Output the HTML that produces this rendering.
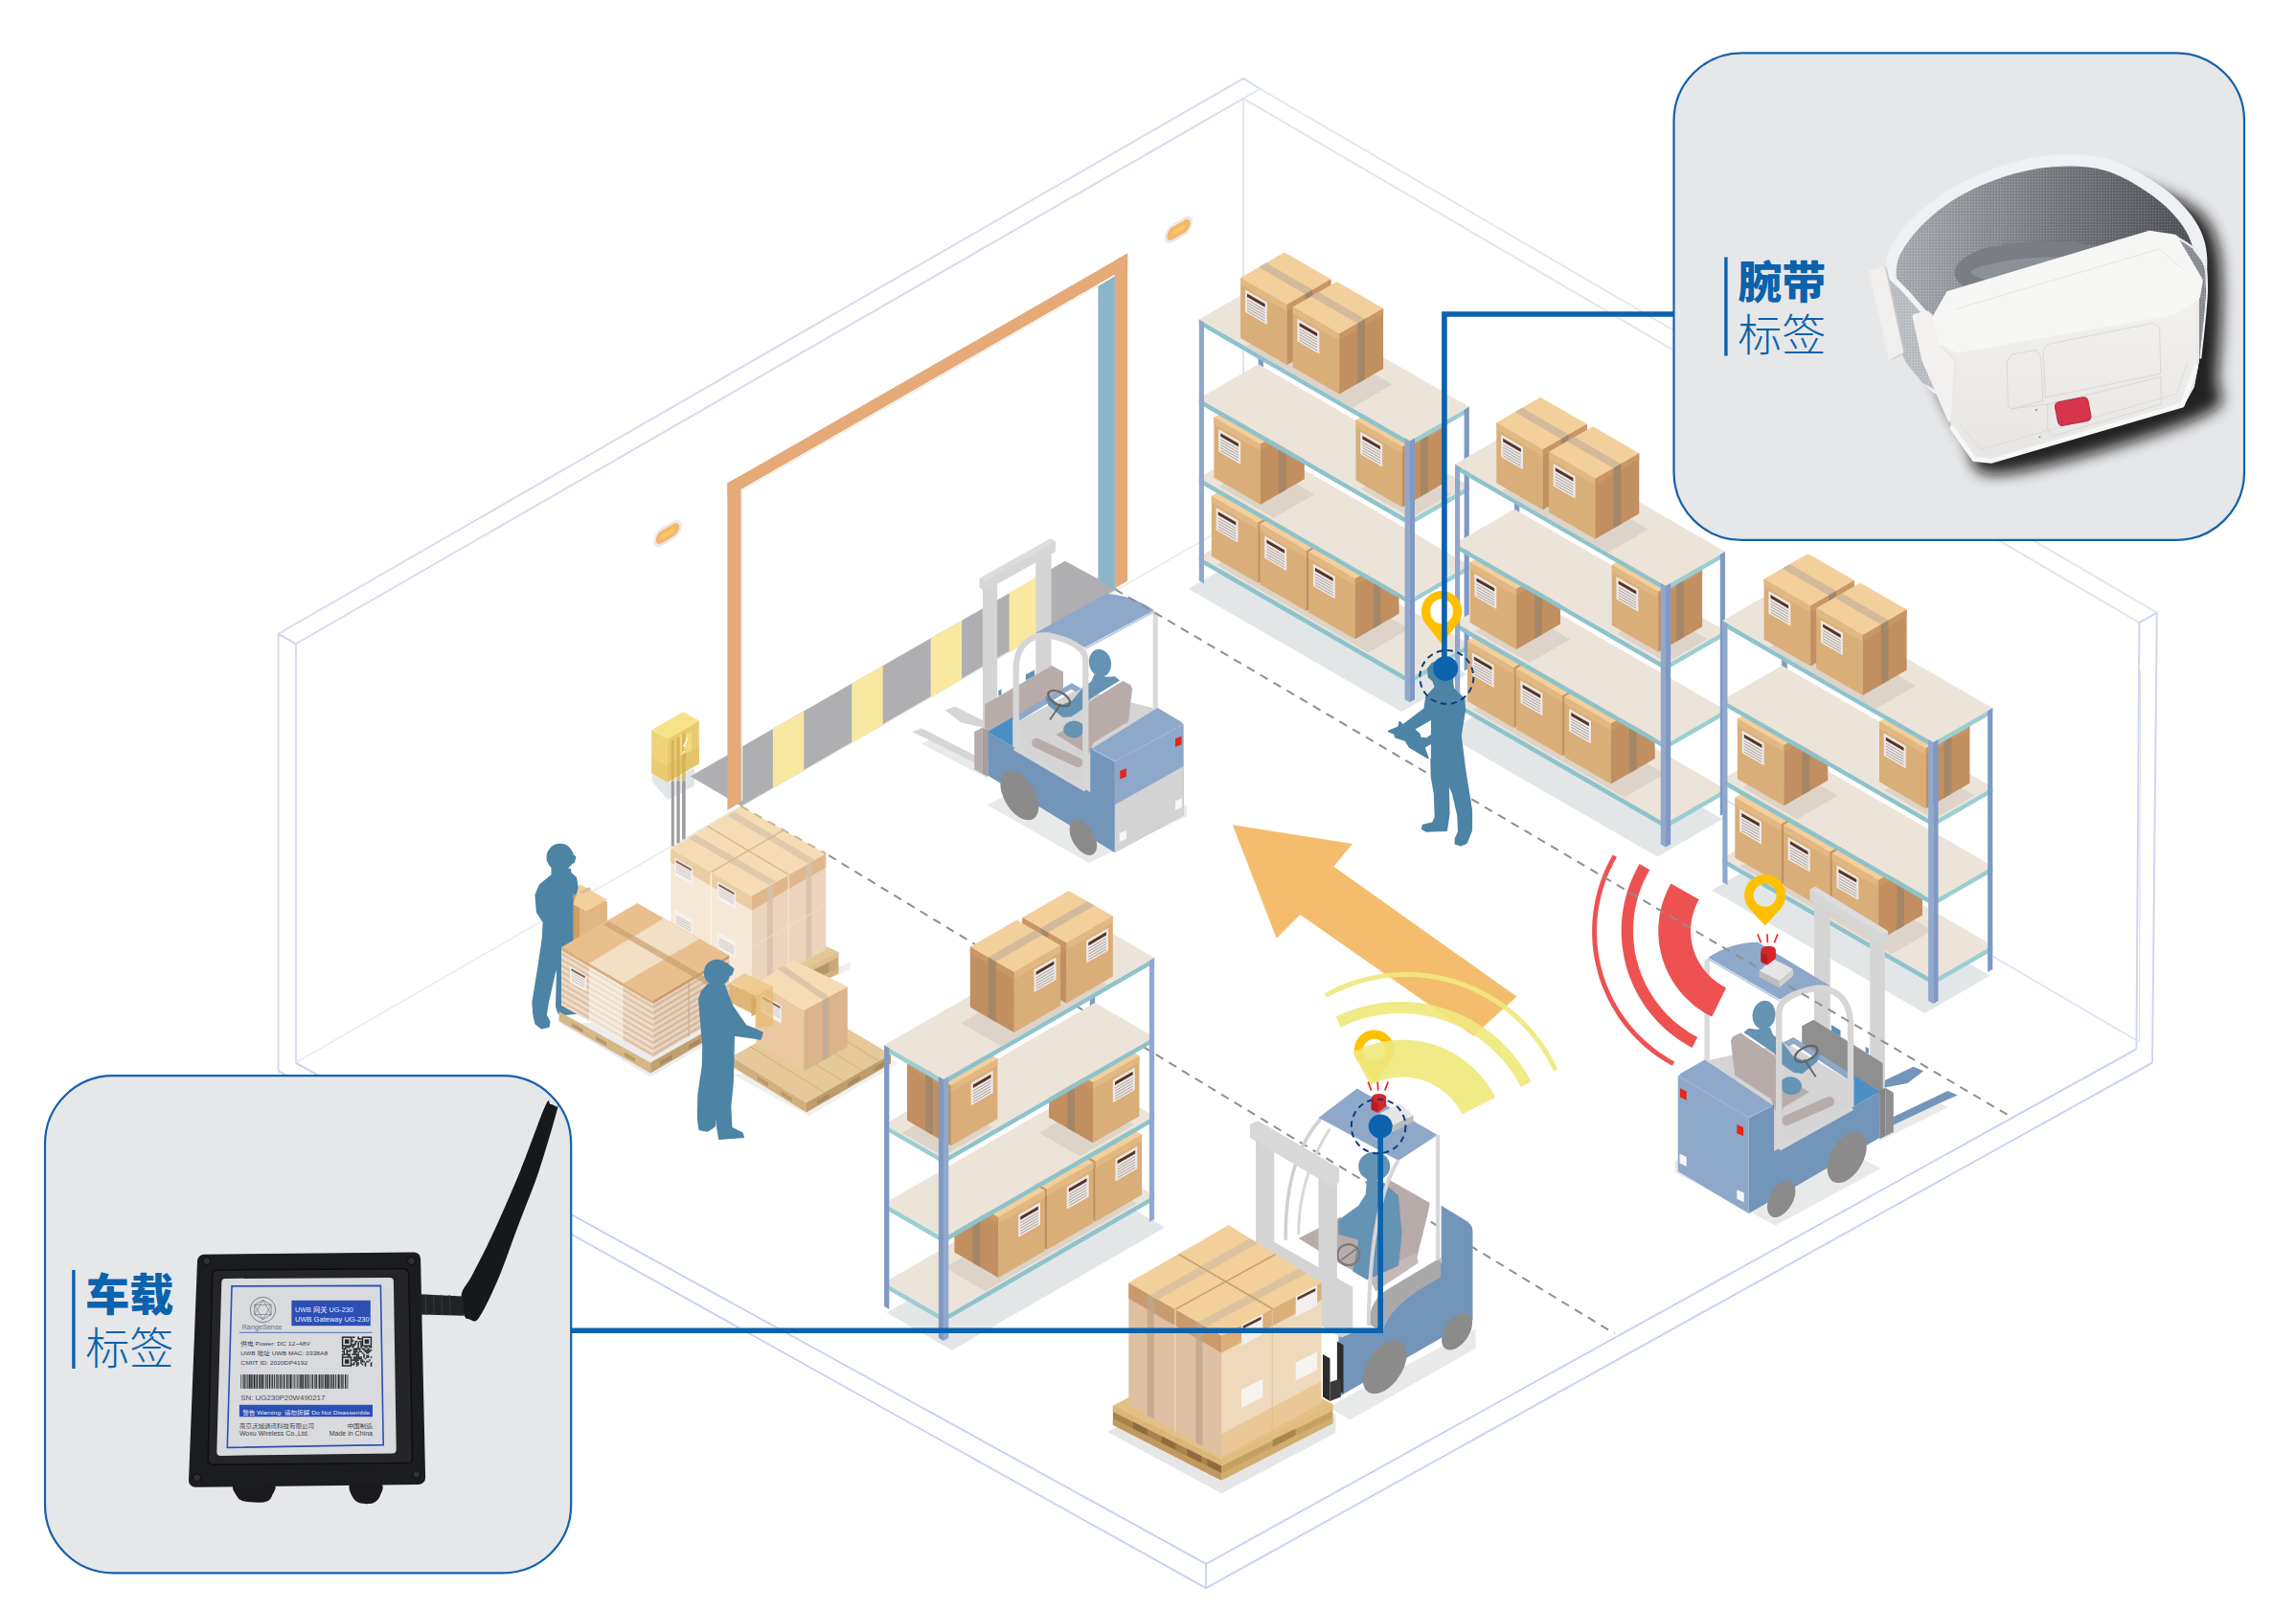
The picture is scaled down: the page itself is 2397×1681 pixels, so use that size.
<!DOCTYPE html>
<html lang="zh"><head><meta charset="utf-8"><title>UWB 仓库定位</title>
<style>html,body{margin:0;padding:0;background:#fff}svg{display:block}text{font-family:"Liberation Sans","Noto Sans CJK SC",sans-serif}</style></head>
<body><svg width="2397" height="1681" viewBox="0 0 2397 1681">
<rect width="2397" height="1681" fill="#fff"/>
<polyline points="290.6,661.8 1298.1,81.9 1315.5,92.7" fill="none" stroke="#d5d9ec" stroke-width="1.9"/>
<polyline points="308.9,672.3 1298.1,102.8" fill="none" stroke="#d5d9ec" stroke-width="1.9"/>
<polyline points="290.6,661.8 308.9,672.3" fill="none" stroke="#cdd2e8" stroke-width="2"/>
<polyline points="290.6,661.8 290.6,1118.1" fill="none" stroke="#d5d9ec" stroke-width="1.9"/>
<polyline points="308.9,672.3 308.9,1109.8" fill="none" stroke="#d5d9ec" stroke-width="1.9"/>
<polyline points="1298.1,102.8 1298.1,540" fill="none" stroke="#d5d9ec" stroke-width="1.4"/>
<polyline points="310,1108.9 1298,540" fill="none" stroke="#e6ece4" stroke-width="1.5"/>
<polyline points="1315.5,92.7 2251.8,639.6" fill="none" stroke="#dde8e8" stroke-width="1.9"/>
<polyline points="1298.1,102.8 2233.4,650.1" fill="none" stroke="#dde8e8" stroke-width="2"/>
<polyline points="1298.1,102.8 1315.5,92.7" fill="none" stroke="#dde8e8" stroke-width="1.9"/>
<polyline points="2233.4,650.1 2251.8,639.6" fill="none" stroke="#cfd4f0" stroke-width="1.8"/>
<polyline points="2251.8,639.6 2247,1109.6" fill="none" stroke="#cfd4f0" stroke-width="1.9"/>
<polyline points="2233.4,650.1 2230.4,1095.3" fill="none" stroke="#cfd4f0" stroke-width="1.9"/>
<polyline points="2234.5,700 2233.5,1087.8" fill="none" stroke="#dfe2f2" stroke-width="1.2"/>
<polyline points="1298,540 2233,1087.8" fill="none" stroke="#dcdff0" stroke-width="1.6"/>
<polyline points="2230.4,1095.3 1259.1,1632.9 308.9,1109.8" fill="none" stroke="#c7d1ef" stroke-width="1.9"/>
<polyline points="2247,1109.6 1259.1,1658.2 290.6,1118.1" fill="none" stroke="#c7d1ef" stroke-width="1.9"/>
<polyline points="1259.1,1632.9 1259.1,1658.2" fill="none" stroke="#c7d1ef" stroke-width="1.9"/>
<polygon points="680.7,808.3 697.5,817.3 724.9,801.6 724.9,820.6 697.5,835.2 680.7,816.2" fill="#e3e6e8"/>
<polygon points="720.7,810.5 1111.9,585.8 1166,614.9 773.6,841.7" fill="#afafb1"/>
<polygon points="806.9,761 839.3,742.4 839.3,804 806.9,822.6" fill="#f9e9a0"/>
<polygon points="889.3,713.6 921.7,695 921.7,756.6 889.3,775.2" fill="#f9e9a0"/>
<polygon points="971.6,666.4 1004.1,647.7 1004.1,709.3 971.6,728" fill="#f9e9a0"/>
<polygon points="1053.6,619.2 1086,600.6 1086,662.2 1053.6,680.8" fill="#f9e9a0"/>
<polygon points="759.4,504.6 773.6,496.4 773.6,837.6 759.4,845.8" fill="#e5aa77"/>
<polygon points="759.4,504.6 1177.2,264.5 1177.2,279 759.4,519.1" fill="#e5aa77"/>
<polygon points="1163.9,272.1 1177.2,264.5 1177.2,606.6 1163.9,614.2" fill="#e5aa77"/>
<polygon points="1146.4,298.7 1163.9,288.3 1163.9,615.2 1146.4,605.4" fill="#8cb5c8"/>
<polyline points="774.6,836 774.6,512 1146,298.5" fill="none" stroke="#e6efe9" stroke-width="1.4"/>
<g transform="translate(697,557) matrix(0.866,-0.5,0,1,0,0)">
<rect x="-17" y="-9.5" width="34" height="19" rx="9.5" fill="#e9eaee"/>
<rect x="-14" y="-6.5" width="28" height="13" rx="6.5" fill="#f7b668"/>
<rect x="-8" y="-2.5" width="16" height="5" rx="2.5" fill="#f9c66e"/>
</g>
<g transform="translate(1230.4,240) matrix(0.866,-0.5,0,1,0,0)">
<rect x="-17" y="-9.5" width="34" height="19" rx="9.5" fill="#e9eaee"/>
<rect x="-14" y="-6.5" width="28" height="13" rx="6.5" fill="#f7b668"/>
<rect x="-8" y="-2.5" width="16" height="5" rx="2.5" fill="#f9c66e"/>
</g>
<rect x="700.8" y="815" width="3" height="68.8" rx="1.5" fill="#9d9d9f"/>
<rect x="706.4" y="815" width="3.4" height="65.4" rx="1.5" fill="#9d9d9f"/>
<rect x="712" y="815" width="3.7" height="61.5" rx="1.5" fill="#9d9d9f"/>
<polygon points="680.1,762.3 696.9,771.4 696.9,816.7 680.1,807.2" fill="#f0d27c"/>
<polygon points="696.9,771.4 729.9,752.4 729.9,797.2 696.9,816.7" fill="#e9ca70"/>
<polygon points="696.9,798.3 729.9,779.3 729.9,797.2 696.9,816.7" fill="#e2c068" opacity="0.8"/>
<polygon points="680.1,791.6 696.9,800.5 696.9,816.7 680.1,807.2" fill="#e8c871" opacity="0.8"/>
<polygon points="680.1,762.3 713.1,743.3 729.9,752.4 696.9,771.4" fill="#f6e389"/>
<polygon points="709.2,768.3 722.1,764.2 722.1,784 709.2,788.4" fill="#f6d979"/>
<rect x="700.8" y="772.6" width="3" height="42.5" rx="1.5" fill="#d3ab50" opacity="0.75"/>
<rect x="706.4" y="769.2" width="3.4" height="45.8" rx="1.5" fill="#d3ab50" opacity="0.75"/>
<rect x="712" y="765.3" width="3.7" height="49.8" rx="1.5" fill="#d3ab50" opacity="0.75"/>
<polygon points="717.6,770.3 712.6,779.8 716.5,779.3 710.9,789.3 715.9,784.3 713.7,783.7 718.1,770.9" fill="#ffffff"/>
<polygon points="1240.5,614.8 1463.1,743.3 1531.2,704 1308.6,575.5" fill="#e3e6e7"/>
<polygon points="1313.8,570.5 1319,573.5 1319,300.7 1313.8,297.7" fill="#90a8cc"/>
<polygon points="1313.8,576.5 1319,573.5 1319,300.7 1313.8,303.7" fill="#7f99c3"/>
<polygon points="1251.8,586.7 1471.8,713.7 1471.8,708.3 1251.8,581.3" fill="#8dc3cc"/>
<polygon points="1471.8,713.7 1533.8,677.9 1533.8,672.5 1471.8,708.3" fill="#9bcdd3"/>
<polygon points="1251.8,581.3 1471.8,708.3 1533.8,672.5 1313.8,545.5" fill="#ece3d9"/>
<polygon points="1270,589.8 1327.1,622.8 1369.6,598.3 1312.4,565.3" fill="#ddd3c9"/>
<polygon points="1320.6,619 1377.8,652 1420.2,627.5 1363.1,594.5" fill="#ddd3c9"/>
<polygon points="1371.3,648.3 1428.5,681.3 1470.9,656.8 1413.7,623.8" fill="#ddd3c9"/>
<polygon points="1264.8,580.8 1313.3,608.8 1313.3,545.8 1264.8,517.8" fill="#d9ae78"/>
<polygon points="1313.3,608.8 1359.2,582.3 1359.2,519.3 1313.3,545.8" fill="#c18f60"/>
<polygon points="1264.8,517.8 1313.3,545.8 1359.2,519.3 1310.7,491.3" fill="#f3cf9b"/>
<polygon points="1264.8,524.8 1313.3,552.8 1313.3,545.8 1264.8,517.8" fill="#e2b882"/>
<polygon points="1313.3,552.8 1359.2,526.3 1359.2,519.3 1313.3,545.8" fill="#c99666"/>
<polygon points="1283.8,506.8 1332.3,534.8 1340.1,530.3 1291.6,502.3" fill="#d3ba9b"/>
<polygon points="1332.3,597.8 1340.1,593.3 1340.1,530.3 1332.3,534.8" fill="#a58767"/>
<polygon points="1269.6,553.5 1292.5,566.8 1292.5,543.3 1269.6,530" fill="#ede7e4"/>
<polygon points="1271.7,537.8 1290.3,548.5 1290.3,545 1271.7,534.3" fill="#553426"/>
<polyline points="1271.7,540.8 1290.3,551.5" fill="none" stroke="#8d817c" stroke-width="0.7"/>
<polyline points="1271.7,543.7 1290.3,554.4" fill="none" stroke="#8d817c" stroke-width="0.7"/>
<polyline points="1271.7,546.6 1290.3,557.3" fill="none" stroke="#8d817c" stroke-width="0.7"/>
<polyline points="1271.7,549.5 1290.3,560.2" fill="none" stroke="#8d817c" stroke-width="0.7"/>
<polyline points="1271.7,552.4 1290.3,563.1" fill="none" stroke="#8d817c" stroke-width="0.7"/>
<polygon points="1315.5,610 1363.9,638 1363.9,575 1315.5,547" fill="#d9ae78"/>
<polygon points="1363.9,638 1409.8,611.5 1409.8,548.5 1363.9,575" fill="#c18f60"/>
<polygon points="1315.5,547 1363.9,575 1409.8,548.5 1361.3,520.5" fill="#f3cf9b"/>
<polygon points="1315.5,554 1363.9,582 1363.9,575 1315.5,547" fill="#e2b882"/>
<polygon points="1363.9,582 1409.8,555.5 1409.8,548.5 1363.9,575" fill="#c99666"/>
<polygon points="1334.5,536 1383,564 1390.8,559.5 1342.3,531.5" fill="#d3ba9b"/>
<polygon points="1383,627 1390.8,622.5 1390.8,559.5 1383,564" fill="#a58767"/>
<polygon points="1320.2,582.8 1343.2,596 1343.2,572.5 1320.2,559.3" fill="#ede7e4"/>
<polygon points="1322.4,567 1341,577.8 1341,574.3 1322.4,563.5" fill="#553426"/>
<polyline points="1322.4,570 1341,580.8" fill="none" stroke="#8d817c" stroke-width="0.7"/>
<polyline points="1322.4,572.9 1341,583.7" fill="none" stroke="#8d817c" stroke-width="0.7"/>
<polyline points="1322.4,575.8 1341,586.6" fill="none" stroke="#8d817c" stroke-width="0.7"/>
<polyline points="1322.4,578.8 1341,589.5" fill="none" stroke="#8d817c" stroke-width="0.7"/>
<polyline points="1322.4,581.6 1341,592.4" fill="none" stroke="#8d817c" stroke-width="0.7"/>
<polygon points="1366.1,639.3 1414.6,667.3 1414.6,604.3 1366.1,576.3" fill="#d9ae78"/>
<polygon points="1414.6,667.3 1460.5,640.8 1460.5,577.8 1414.6,604.3" fill="#c18f60"/>
<polygon points="1366.1,576.3 1414.6,604.3 1460.5,577.8 1412,549.8" fill="#f3cf9b"/>
<polygon points="1366.1,583.3 1414.6,611.3 1414.6,604.3 1366.1,576.3" fill="#e2b882"/>
<polygon points="1414.6,611.3 1460.5,584.8 1460.5,577.8 1414.6,604.3" fill="#c99666"/>
<polygon points="1385.2,565.3 1433.7,593.3 1441.5,588.8 1393,560.8" fill="#d3ba9b"/>
<polygon points="1433.7,656.3 1441.5,651.8 1441.5,588.8 1433.7,593.3" fill="#a58767"/>
<polygon points="1370.9,612 1393.8,625.3 1393.8,601.8 1370.9,588.5" fill="#ede7e4"/>
<polygon points="1373,596.3 1391.7,607 1391.7,603.5 1373,592.8" fill="#553426"/>
<polyline points="1373,599.3 1391.7,610" fill="none" stroke="#8d817c" stroke-width="0.7"/>
<polyline points="1373,602.2 1391.7,612.9" fill="none" stroke="#8d817c" stroke-width="0.7"/>
<polyline points="1373,605.1 1391.7,615.8" fill="none" stroke="#8d817c" stroke-width="0.7"/>
<polyline points="1373,608 1391.7,618.8" fill="none" stroke="#8d817c" stroke-width="0.7"/>
<polyline points="1373,610.9 1391.7,621.6" fill="none" stroke="#8d817c" stroke-width="0.7"/>
<polygon points="1251.8,504.1 1471.8,631.1 1471.8,625.7 1251.8,498.7" fill="#8dc3cc"/>
<polygon points="1471.8,631.1 1533.8,595.3 1533.8,589.9 1471.8,625.7" fill="#9bcdd3"/>
<polygon points="1251.8,498.7 1471.8,625.7 1533.8,589.9 1313.8,462.9" fill="#ece3d9"/>
<polygon points="1272.6,507.7 1329.7,540.7 1372.2,516.2 1315,483.2" fill="#ddd3c9"/>
<polygon points="1267.4,498.7 1315.9,526.7 1315.9,463.7 1267.4,435.7" fill="#d9ae78"/>
<polygon points="1315.9,526.7 1361.8,500.2 1361.8,437.2 1315.9,463.7" fill="#c18f60"/>
<polygon points="1267.4,435.7 1315.9,463.7 1361.8,437.2 1313.3,409.2" fill="#f3cf9b"/>
<polygon points="1267.4,442.7 1315.9,470.7 1315.9,463.7 1267.4,435.7" fill="#e2b882"/>
<polygon points="1315.9,470.7 1361.8,444.2 1361.8,437.2 1315.9,463.7" fill="#c99666"/>
<polygon points="1286.4,424.7 1334.9,452.7 1342.7,448.2 1294.2,420.2" fill="#d3ba9b"/>
<polygon points="1334.9,515.7 1342.7,511.2 1342.7,448.2 1334.9,452.7" fill="#a58767"/>
<polygon points="1272.2,471.4 1295.1,484.7 1295.1,461.2 1272.2,447.9" fill="#ede7e4"/>
<polygon points="1274.3,455.7 1292.9,466.4 1292.9,462.9 1274.3,452.2" fill="#553426"/>
<polyline points="1274.3,458.7 1292.9,469.4" fill="none" stroke="#8d817c" stroke-width="0.7"/>
<polyline points="1274.3,461.6 1292.9,472.3" fill="none" stroke="#8d817c" stroke-width="0.7"/>
<polyline points="1274.3,464.5 1292.9,475.2" fill="none" stroke="#8d817c" stroke-width="0.7"/>
<polyline points="1274.3,467.4 1292.9,478.1" fill="none" stroke="#8d817c" stroke-width="0.7"/>
<polyline points="1274.3,470.3 1292.9,481" fill="none" stroke="#8d817c" stroke-width="0.7"/>
<polygon points="1251.8,421.5 1471.8,548.5 1471.8,543.1 1251.8,416.1" fill="#8dc3cc"/>
<polygon points="1471.8,548.5 1533.8,512.7 1533.8,507.3 1471.8,543.1" fill="#9bcdd3"/>
<polygon points="1251.8,416.1 1471.8,543.1 1533.8,507.3 1313.8,380.3" fill="#ece3d9"/>
<polygon points="1420.7,510.6 1472.6,540.6 1515.1,516.1 1463.1,486.1" fill="#ddd3c9"/>
<polygon points="1415.5,501.6 1464,529.6 1464,466.6 1415.5,438.6" fill="#d9ae78"/>
<polygon points="1464,529.6 1509.9,503.1 1509.9,440.1 1464,466.6" fill="#c18f60"/>
<polygon points="1415.5,438.6 1464,466.6 1509.9,440.1 1461.4,412.1" fill="#f3cf9b"/>
<polygon points="1415.5,445.6 1464,473.6 1464,466.6 1415.5,438.6" fill="#e2b882"/>
<polygon points="1464,473.6 1509.9,447.1 1509.9,440.1 1464,466.6" fill="#c99666"/>
<polygon points="1434.5,427.6 1483,455.6 1490.8,451.1 1442.3,423.1" fill="#d3ba9b"/>
<polygon points="1483,518.6 1490.8,514.1 1490.8,451.1 1483,455.6" fill="#a58767"/>
<polygon points="1420.2,474.3 1443.2,487.6 1443.2,464.1 1420.2,450.8" fill="#ede7e4"/>
<polygon points="1422.4,458.6 1441,469.3 1441,465.8 1422.4,455.1" fill="#553426"/>
<polyline points="1422.4,461.6 1441,472.3" fill="none" stroke="#8d817c" stroke-width="0.7"/>
<polyline points="1422.4,464.5 1441,475.2" fill="none" stroke="#8d817c" stroke-width="0.7"/>
<polyline points="1422.4,467.4 1441,478.1" fill="none" stroke="#8d817c" stroke-width="0.7"/>
<polyline points="1422.4,470.3 1441,481" fill="none" stroke="#8d817c" stroke-width="0.7"/>
<polyline points="1422.4,473.2 1441,483.9" fill="none" stroke="#8d817c" stroke-width="0.7"/>
<polygon points="1251.8,338.9 1471.8,465.9 1471.8,460.5 1251.8,333.5" fill="#8dc3cc"/>
<polygon points="1471.8,465.9 1533.8,430.1 1533.8,424.7 1471.8,460.5" fill="#9bcdd3"/>
<polygon points="1251.8,333.5 1471.8,460.5 1533.8,424.7 1313.8,297.7" fill="#ece3d9"/>
<polygon points="1300.3,362 1411.1,426 1453.6,401.5 1342.7,337.5" fill="#ddd3c9"/>
<polygon points="1295.1,353 1343.6,381 1343.6,318 1295.1,290" fill="#d9ae78"/>
<polygon points="1343.6,381 1389.5,354.5 1389.5,291.5 1343.6,318" fill="#c18f60"/>
<polygon points="1295.1,290 1343.6,318 1389.5,291.5 1341,263.5" fill="#f3cf9b"/>
<polygon points="1295.1,297 1343.6,325 1343.6,318 1295.1,290" fill="#e2b882"/>
<polygon points="1343.6,325 1389.5,298.5 1389.5,291.5 1343.6,318" fill="#c99666"/>
<polygon points="1314.2,279 1362.6,307 1370.4,302.5 1321.9,274.5" fill="#d3ba9b"/>
<polygon points="1362.6,370 1370.4,365.5 1370.4,302.5 1362.6,307" fill="#a58767"/>
<polygon points="1299.9,325.8 1322.8,339 1322.8,315.5 1299.9,302.2" fill="#ede7e4"/>
<polygon points="1302,310 1320.6,320.8 1320.6,317.2 1302,306.5" fill="#553426"/>
<polyline points="1302,313 1320.6,323.8" fill="none" stroke="#8d817c" stroke-width="0.7"/>
<polyline points="1302,315.9 1320.6,326.6" fill="none" stroke="#8d817c" stroke-width="0.7"/>
<polyline points="1302,318.8 1320.6,329.6" fill="none" stroke="#8d817c" stroke-width="0.7"/>
<polyline points="1302,321.7 1320.6,332.4" fill="none" stroke="#8d817c" stroke-width="0.7"/>
<polyline points="1302,324.6 1320.6,335.4" fill="none" stroke="#8d817c" stroke-width="0.7"/>
<polygon points="1349.7,383.5 1398.2,411.5 1398.2,348.5 1349.7,320.5" fill="#d9ae78"/>
<polygon points="1398.2,411.5 1444.1,385 1444.1,322 1398.2,348.5" fill="#c18f60"/>
<polygon points="1349.7,320.5 1398.2,348.5 1444.1,322 1395.6,294" fill="#f3cf9b"/>
<polygon points="1349.7,327.5 1398.2,355.5 1398.2,348.5 1349.7,320.5" fill="#e2b882"/>
<polygon points="1398.2,355.5 1444.1,329 1444.1,322 1398.2,348.5" fill="#c99666"/>
<polygon points="1368.7,309.5 1417.2,337.5 1425,333 1376.5,305" fill="#d3ba9b"/>
<polygon points="1417.2,400.5 1425,396 1425,333 1417.2,337.5" fill="#a58767"/>
<polygon points="1354.4,356.2 1377.4,369.5 1377.4,346 1354.4,332.8" fill="#ede7e4"/>
<polygon points="1356.6,340.5 1375.2,351.2 1375.2,347.8 1356.6,337" fill="#553426"/>
<polyline points="1356.6,343.5 1375.2,354.2" fill="none" stroke="#8d817c" stroke-width="0.7"/>
<polyline points="1356.6,346.4 1375.2,357.1" fill="none" stroke="#8d817c" stroke-width="0.7"/>
<polyline points="1356.6,349.3 1375.2,360.1" fill="none" stroke="#8d817c" stroke-width="0.7"/>
<polyline points="1356.6,352.2 1375.2,362.9" fill="none" stroke="#8d817c" stroke-width="0.7"/>
<polyline points="1356.6,355.1 1375.2,365.9" fill="none" stroke="#8d817c" stroke-width="0.7"/>
<polygon points="1528.6,700.5 1533.8,697.5 1533.8,424.7 1528.6,427.7" fill="#7f99c3"/>
<polygon points="1251.8,606.3 1257,609.3 1257,336.5 1251.8,333.5" fill="#90a8cc"/>
<polygon points="1466.6,730.3 1471.8,733.3 1471.8,460.5 1466.6,457.5" fill="#90a8cc"/>
<polygon points="1471.8,733.3 1477,730.3 1477,457.5 1471.8,460.5" fill="#7f99c3"/>
<polygon points="1507.7,766 1730.3,894.5 1798.4,855.2 1575.8,726.7" fill="#e3e6e7"/>
<polygon points="1581,721.7 1586.2,724.7 1586.2,451.9 1581,448.9" fill="#90a8cc"/>
<polygon points="1581,727.7 1586.2,724.7 1586.2,451.9 1581,454.9" fill="#7f99c3"/>
<polygon points="1519,737.9 1739,864.9 1739,859.5 1519,732.5" fill="#8dc3cc"/>
<polygon points="1739,864.9 1801,829.1 1801,823.7 1739,859.5" fill="#9bcdd3"/>
<polygon points="1519,732.5 1739,859.5 1801,823.7 1581,696.7" fill="#ece3d9"/>
<polygon points="1537.2,741 1594.3,774 1636.8,749.5 1579.6,716.5" fill="#ddd3c9"/>
<polygon points="1587.8,770.2 1645,803.2 1687.4,778.8 1630.3,745.8" fill="#ddd3c9"/>
<polygon points="1638.5,799.5 1695.7,832.5 1738.1,808 1680.9,775" fill="#ddd3c9"/>
<polygon points="1532,732 1580.5,760 1580.5,697 1532,669" fill="#d9ae78"/>
<polygon points="1580.5,760 1626.4,733.5 1626.4,670.5 1580.5,697" fill="#c18f60"/>
<polygon points="1532,669 1580.5,697 1626.4,670.5 1577.9,642.5" fill="#f3cf9b"/>
<polygon points="1532,676 1580.5,704 1580.5,697 1532,669" fill="#e2b882"/>
<polygon points="1580.5,704 1626.4,677.5 1626.4,670.5 1580.5,697" fill="#c99666"/>
<polygon points="1551,658 1599.5,686 1607.3,681.5 1558.8,653.5" fill="#d3ba9b"/>
<polygon points="1599.5,749 1607.3,744.5 1607.3,681.5 1599.5,686" fill="#a58767"/>
<polygon points="1536.8,704.8 1559.7,718 1559.7,694.5 1536.8,681.2" fill="#ede7e4"/>
<polygon points="1538.9,689 1557.5,699.8 1557.5,696.2 1538.9,685.5" fill="#553426"/>
<polyline points="1538.9,692 1557.5,702.8" fill="none" stroke="#8d817c" stroke-width="0.7"/>
<polyline points="1538.9,694.9 1557.5,705.6" fill="none" stroke="#8d817c" stroke-width="0.7"/>
<polyline points="1538.9,697.8 1557.5,708.5" fill="none" stroke="#8d817c" stroke-width="0.7"/>
<polyline points="1538.9,700.7 1557.5,711.5" fill="none" stroke="#8d817c" stroke-width="0.7"/>
<polyline points="1538.9,703.6 1557.5,714.4" fill="none" stroke="#8d817c" stroke-width="0.7"/>
<polygon points="1582.7,761.2 1631.1,789.2 1631.1,726.2 1582.7,698.2" fill="#d9ae78"/>
<polygon points="1631.1,789.2 1677,762.8 1677,699.8 1631.1,726.2" fill="#c18f60"/>
<polygon points="1582.7,698.2 1631.1,726.2 1677,699.8 1628.5,671.8" fill="#f3cf9b"/>
<polygon points="1582.7,705.2 1631.1,733.2 1631.1,726.2 1582.7,698.2" fill="#e2b882"/>
<polygon points="1631.1,733.2 1677,706.8 1677,699.8 1631.1,726.2" fill="#c99666"/>
<polygon points="1601.7,687.2 1650.2,715.2 1658,710.8 1609.5,682.8" fill="#d3ba9b"/>
<polygon points="1650.2,778.2 1658,773.8 1658,710.8 1650.2,715.2" fill="#a58767"/>
<polygon points="1587.4,734 1610.4,747.2 1610.4,723.8 1587.4,710.5" fill="#ede7e4"/>
<polygon points="1589.6,718.2 1608.2,729 1608.2,725.5 1589.6,714.8" fill="#553426"/>
<polyline points="1589.6,721.2 1608.2,732" fill="none" stroke="#8d817c" stroke-width="0.7"/>
<polyline points="1589.6,724.1 1608.2,734.9" fill="none" stroke="#8d817c" stroke-width="0.7"/>
<polyline points="1589.6,727 1608.2,737.8" fill="none" stroke="#8d817c" stroke-width="0.7"/>
<polyline points="1589.6,730 1608.2,740.7" fill="none" stroke="#8d817c" stroke-width="0.7"/>
<polyline points="1589.6,732.9 1608.2,743.6" fill="none" stroke="#8d817c" stroke-width="0.7"/>
<polygon points="1633.3,790.5 1681.8,818.5 1681.8,755.5 1633.3,727.5" fill="#d9ae78"/>
<polygon points="1681.8,818.5 1727.7,792 1727.7,729 1681.8,755.5" fill="#c18f60"/>
<polygon points="1633.3,727.5 1681.8,755.5 1727.7,729 1679.2,701" fill="#f3cf9b"/>
<polygon points="1633.3,734.5 1681.8,762.5 1681.8,755.5 1633.3,727.5" fill="#e2b882"/>
<polygon points="1681.8,762.5 1727.7,736 1727.7,729 1681.8,755.5" fill="#c99666"/>
<polygon points="1652.4,716.5 1700.9,744.5 1708.7,740 1660.2,712" fill="#d3ba9b"/>
<polygon points="1700.9,807.5 1708.7,803 1708.7,740 1700.9,744.5" fill="#a58767"/>
<polygon points="1638.1,763.2 1661,776.5 1661,753 1638.1,739.8" fill="#ede7e4"/>
<polygon points="1640.2,747.5 1658.9,758.2 1658.9,754.8 1640.2,744" fill="#553426"/>
<polyline points="1640.2,750.5 1658.9,761.2" fill="none" stroke="#8d817c" stroke-width="0.7"/>
<polyline points="1640.2,753.4 1658.9,764.1" fill="none" stroke="#8d817c" stroke-width="0.7"/>
<polyline points="1640.2,756.3 1658.9,767" fill="none" stroke="#8d817c" stroke-width="0.7"/>
<polyline points="1640.2,759.2 1658.9,770" fill="none" stroke="#8d817c" stroke-width="0.7"/>
<polyline points="1640.2,762.1 1658.9,772.9" fill="none" stroke="#8d817c" stroke-width="0.7"/>
<polygon points="1519,655.3 1739,782.3 1739,776.9 1519,649.9" fill="#8dc3cc"/>
<polygon points="1739,782.3 1801,746.5 1801,741.1 1739,776.9" fill="#9bcdd3"/>
<polygon points="1519,649.9 1739,776.9 1801,741.1 1581,614.1" fill="#ece3d9"/>
<polygon points="1539.8,658.9 1596.9,691.9 1639.4,667.4 1582.2,634.4" fill="#ddd3c9"/>
<polygon points="1534.6,649.9 1583.1,677.9 1583.1,614.9 1534.6,586.9" fill="#d9ae78"/>
<polygon points="1583.1,677.9 1629,651.4 1629,588.4 1583.1,614.9" fill="#c18f60"/>
<polygon points="1534.6,586.9 1583.1,614.9 1629,588.4 1580.5,560.4" fill="#f3cf9b"/>
<polygon points="1534.6,593.9 1583.1,621.9 1583.1,614.9 1534.6,586.9" fill="#e2b882"/>
<polygon points="1583.1,621.9 1629,595.4 1629,588.4 1583.1,614.9" fill="#c99666"/>
<polygon points="1553.6,575.9 1602.1,603.9 1609.9,599.4 1561.4,571.4" fill="#d3ba9b"/>
<polygon points="1602.1,666.9 1609.9,662.4 1609.9,599.4 1602.1,603.9" fill="#a58767"/>
<polygon points="1539.4,622.6 1562.3,635.9 1562.3,612.4 1539.4,599.1" fill="#ede7e4"/>
<polygon points="1541.5,606.9 1560.1,617.6 1560.1,614.1 1541.5,603.4" fill="#553426"/>
<polyline points="1541.5,609.9 1560.1,620.6" fill="none" stroke="#8d817c" stroke-width="0.7"/>
<polyline points="1541.5,612.8 1560.1,623.5" fill="none" stroke="#8d817c" stroke-width="0.7"/>
<polyline points="1541.5,615.7 1560.1,626.5" fill="none" stroke="#8d817c" stroke-width="0.7"/>
<polyline points="1541.5,618.6 1560.1,629.4" fill="none" stroke="#8d817c" stroke-width="0.7"/>
<polyline points="1541.5,621.5 1560.1,632.2" fill="none" stroke="#8d817c" stroke-width="0.7"/>
<polygon points="1519,572.7 1739,699.7 1739,694.3 1519,567.3" fill="#8dc3cc"/>
<polygon points="1739,699.7 1801,663.9 1801,658.5 1739,694.3" fill="#9bcdd3"/>
<polygon points="1519,567.3 1739,694.3 1801,658.5 1581,531.5" fill="#ece3d9"/>
<polygon points="1687.9,661.8 1739.8,691.8 1782.3,667.3 1730.3,637.3" fill="#ddd3c9"/>
<polygon points="1682.7,652.8 1731.2,680.8 1731.2,617.8 1682.7,589.8" fill="#d9ae78"/>
<polygon points="1731.2,680.8 1777.1,654.3 1777.1,591.3 1731.2,617.8" fill="#c18f60"/>
<polygon points="1682.7,589.8 1731.2,617.8 1777.1,591.3 1728.6,563.3" fill="#f3cf9b"/>
<polygon points="1682.7,596.8 1731.2,624.8 1731.2,617.8 1682.7,589.8" fill="#e2b882"/>
<polygon points="1731.2,624.8 1777.1,598.3 1777.1,591.3 1731.2,617.8" fill="#c99666"/>
<polygon points="1701.7,578.8 1750.2,606.8 1758,602.3 1709.5,574.3" fill="#d3ba9b"/>
<polygon points="1750.2,669.8 1758,665.3 1758,602.3 1750.2,606.8" fill="#a58767"/>
<polygon points="1687.4,625.5 1710.4,638.8 1710.4,615.3 1687.4,602" fill="#ede7e4"/>
<polygon points="1689.6,609.8 1708.2,620.5 1708.2,617 1689.6,606.3" fill="#553426"/>
<polyline points="1689.6,612.8 1708.2,623.5" fill="none" stroke="#8d817c" stroke-width="0.7"/>
<polyline points="1689.6,615.7 1708.2,626.5" fill="none" stroke="#8d817c" stroke-width="0.7"/>
<polyline points="1689.6,618.6 1708.2,629.4" fill="none" stroke="#8d817c" stroke-width="0.7"/>
<polyline points="1689.6,621.5 1708.2,632.2" fill="none" stroke="#8d817c" stroke-width="0.7"/>
<polyline points="1689.6,624.4 1708.2,635.1" fill="none" stroke="#8d817c" stroke-width="0.7"/>
<polygon points="1519,490.1 1739,617.1 1739,611.7 1519,484.7" fill="#8dc3cc"/>
<polygon points="1739,617.1 1801,581.3 1801,575.9 1739,611.7" fill="#9bcdd3"/>
<polygon points="1519,484.7 1739,611.7 1801,575.9 1581,448.9" fill="#ece3d9"/>
<polygon points="1567.5,513.2 1678.3,577.2 1720.8,552.7 1609.9,488.7" fill="#ddd3c9"/>
<polygon points="1562.3,504.2 1610.8,532.2 1610.8,469.2 1562.3,441.2" fill="#d9ae78"/>
<polygon points="1610.8,532.2 1656.7,505.7 1656.7,442.7 1610.8,469.2" fill="#c18f60"/>
<polygon points="1562.3,441.2 1610.8,469.2 1656.7,442.7 1608.2,414.7" fill="#f3cf9b"/>
<polygon points="1562.3,448.2 1610.8,476.2 1610.8,469.2 1562.3,441.2" fill="#e2b882"/>
<polygon points="1610.8,476.2 1656.7,449.7 1656.7,442.7 1610.8,469.2" fill="#c99666"/>
<polygon points="1581.4,430.2 1629.8,458.2 1637.6,453.7 1589.1,425.7" fill="#d3ba9b"/>
<polygon points="1629.8,521.2 1637.6,516.7 1637.6,453.7 1629.8,458.2" fill="#a58767"/>
<polygon points="1567.1,477 1590,490.2 1590,466.7 1567.1,453.5" fill="#ede7e4"/>
<polygon points="1569.2,461.2 1587.8,472 1587.8,468.5 1569.2,457.7" fill="#553426"/>
<polyline points="1569.2,464.2 1587.8,475" fill="none" stroke="#8d817c" stroke-width="0.7"/>
<polyline points="1569.2,467.1 1587.8,477.9" fill="none" stroke="#8d817c" stroke-width="0.7"/>
<polyline points="1569.2,470 1587.8,480.8" fill="none" stroke="#8d817c" stroke-width="0.7"/>
<polyline points="1569.2,472.9 1587.8,483.7" fill="none" stroke="#8d817c" stroke-width="0.7"/>
<polyline points="1569.2,475.8 1587.8,486.6" fill="none" stroke="#8d817c" stroke-width="0.7"/>
<polygon points="1616.9,534.7 1665.4,562.7 1665.4,499.7 1616.9,471.7" fill="#d9ae78"/>
<polygon points="1665.4,562.7 1711.3,536.2 1711.3,473.2 1665.4,499.7" fill="#c18f60"/>
<polygon points="1616.9,471.7 1665.4,499.7 1711.3,473.2 1662.8,445.2" fill="#f3cf9b"/>
<polygon points="1616.9,478.7 1665.4,506.7 1665.4,499.7 1616.9,471.7" fill="#e2b882"/>
<polygon points="1665.4,506.7 1711.3,480.2 1711.3,473.2 1665.4,499.7" fill="#c99666"/>
<polygon points="1635.9,460.7 1684.4,488.7 1692.2,484.2 1643.7,456.2" fill="#d3ba9b"/>
<polygon points="1684.4,551.7 1692.2,547.2 1692.2,484.2 1684.4,488.7" fill="#a58767"/>
<polygon points="1621.6,507.5 1644.6,520.7 1644.6,497.2 1621.6,484" fill="#ede7e4"/>
<polygon points="1623.8,491.7 1642.4,502.5 1642.4,499 1623.8,488.2" fill="#553426"/>
<polyline points="1623.8,494.7 1642.4,505.5" fill="none" stroke="#8d817c" stroke-width="0.7"/>
<polyline points="1623.8,497.6 1642.4,508.4" fill="none" stroke="#8d817c" stroke-width="0.7"/>
<polyline points="1623.8,500.5 1642.4,511.3" fill="none" stroke="#8d817c" stroke-width="0.7"/>
<polyline points="1623.8,503.4 1642.4,514.2" fill="none" stroke="#8d817c" stroke-width="0.7"/>
<polyline points="1623.8,506.3 1642.4,517.1" fill="none" stroke="#8d817c" stroke-width="0.7"/>
<polygon points="1795.8,851.7 1801,848.7 1801,575.9 1795.8,578.9" fill="#7f99c3"/>
<polygon points="1519,757.5 1524.2,760.5 1524.2,487.7 1519,484.7" fill="#90a8cc"/>
<polygon points="1733.8,881.5 1739,884.5 1739,611.7 1733.8,608.7" fill="#90a8cc"/>
<polygon points="1739,884.5 1744.2,881.5 1744.2,608.7 1739,611.7" fill="#7f99c3"/>
<polygon points="1787,929.4 2009.6,1057.9 2077.7,1018.6 1855.1,890.1" fill="#e3e6e7"/>
<polygon points="1860.3,885.1 1865.5,888.1 1865.5,615.3 1860.3,612.3" fill="#90a8cc"/>
<polygon points="1860.3,891.1 1865.5,888.1 1865.5,615.3 1860.3,618.3" fill="#7f99c3"/>
<polygon points="1798.3,901.3 2018.3,1028.3 2018.3,1022.9 1798.3,895.9" fill="#8dc3cc"/>
<polygon points="2018.3,1028.3 2080.3,992.5 2080.3,987.1 2018.3,1022.9" fill="#9bcdd3"/>
<polygon points="1798.3,895.9 2018.3,1022.9 2080.3,987.1 1860.3,860.1" fill="#ece3d9"/>
<polygon points="1816.5,904.4 1873.6,937.4 1916.1,912.9 1858.9,879.9" fill="#ddd3c9"/>
<polygon points="1867.1,933.6 1924.3,966.6 1966.7,942.1 1909.6,909.1" fill="#ddd3c9"/>
<polygon points="1917.8,962.9 1975,995.9 2017.4,971.4 1960.2,938.4" fill="#ddd3c9"/>
<polygon points="1811.3,895.4 1859.8,923.4 1859.8,860.4 1811.3,832.4" fill="#d9ae78"/>
<polygon points="1859.8,923.4 1905.7,896.9 1905.7,833.9 1859.8,860.4" fill="#c18f60"/>
<polygon points="1811.3,832.4 1859.8,860.4 1905.7,833.9 1857.2,805.9" fill="#f3cf9b"/>
<polygon points="1811.3,839.4 1859.8,867.4 1859.8,860.4 1811.3,832.4" fill="#e2b882"/>
<polygon points="1859.8,867.4 1905.7,840.9 1905.7,833.9 1859.8,860.4" fill="#c99666"/>
<polygon points="1830.3,821.4 1878.8,849.4 1886.6,844.9 1838.1,816.9" fill="#d3ba9b"/>
<polygon points="1878.8,912.4 1886.6,907.9 1886.6,844.9 1878.8,849.4" fill="#a58767"/>
<polygon points="1816.1,868.1 1839,881.4 1839,857.9 1816.1,844.6" fill="#ede7e4"/>
<polygon points="1818.2,852.4 1836.8,863.1 1836.8,859.6 1818.2,848.9" fill="#553426"/>
<polyline points="1818.2,855.4 1836.8,866.1" fill="none" stroke="#8d817c" stroke-width="0.7"/>
<polyline points="1818.2,858.3 1836.8,869" fill="none" stroke="#8d817c" stroke-width="0.7"/>
<polyline points="1818.2,861.2 1836.8,871.9" fill="none" stroke="#8d817c" stroke-width="0.7"/>
<polyline points="1818.2,864.1 1836.8,874.9" fill="none" stroke="#8d817c" stroke-width="0.7"/>
<polyline points="1818.2,867 1836.8,877.8" fill="none" stroke="#8d817c" stroke-width="0.7"/>
<polygon points="1862,924.6 1910.4,952.6 1910.4,889.6 1862,861.6" fill="#d9ae78"/>
<polygon points="1910.4,952.6 1956.3,926.1 1956.3,863.1 1910.4,889.6" fill="#c18f60"/>
<polygon points="1862,861.6 1910.4,889.6 1956.3,863.1 1907.8,835.1" fill="#f3cf9b"/>
<polygon points="1862,868.6 1910.4,896.6 1910.4,889.6 1862,861.6" fill="#e2b882"/>
<polygon points="1910.4,896.6 1956.3,870.1 1956.3,863.1 1910.4,889.6" fill="#c99666"/>
<polygon points="1881,850.6 1929.5,878.6 1937.3,874.1 1888.8,846.1" fill="#d3ba9b"/>
<polygon points="1929.5,941.6 1937.3,937.1 1937.3,874.1 1929.5,878.6" fill="#a58767"/>
<polygon points="1866.7,897.4 1889.7,910.6 1889.7,887.1 1866.7,873.9" fill="#ede7e4"/>
<polygon points="1868.9,881.6 1887.5,892.4 1887.5,888.9 1868.9,878.1" fill="#553426"/>
<polyline points="1868.9,884.6 1887.5,895.4" fill="none" stroke="#8d817c" stroke-width="0.7"/>
<polyline points="1868.9,887.5 1887.5,898.3" fill="none" stroke="#8d817c" stroke-width="0.7"/>
<polyline points="1868.9,890.4 1887.5,901.2" fill="none" stroke="#8d817c" stroke-width="0.7"/>
<polyline points="1868.9,893.4 1887.5,904.1" fill="none" stroke="#8d817c" stroke-width="0.7"/>
<polyline points="1868.9,896.2 1887.5,907" fill="none" stroke="#8d817c" stroke-width="0.7"/>
<polygon points="1912.6,953.9 1961.1,981.9 1961.1,918.9 1912.6,890.9" fill="#d9ae78"/>
<polygon points="1961.1,981.9 2007,955.4 2007,892.4 1961.1,918.9" fill="#c18f60"/>
<polygon points="1912.6,890.9 1961.1,918.9 2007,892.4 1958.5,864.4" fill="#f3cf9b"/>
<polygon points="1912.6,897.9 1961.1,925.9 1961.1,918.9 1912.6,890.9" fill="#e2b882"/>
<polygon points="1961.1,925.9 2007,899.4 2007,892.4 1961.1,918.9" fill="#c99666"/>
<polygon points="1931.7,879.9 1980.2,907.9 1988,903.4 1939.5,875.4" fill="#d3ba9b"/>
<polygon points="1980.2,970.9 1988,966.4 1988,903.4 1980.2,907.9" fill="#a58767"/>
<polygon points="1917.4,926.6 1940.3,939.9 1940.3,916.4 1917.4,903.1" fill="#ede7e4"/>
<polygon points="1919.5,910.9 1938.2,921.6 1938.2,918.1 1919.5,907.4" fill="#553426"/>
<polyline points="1919.5,913.9 1938.2,924.6" fill="none" stroke="#8d817c" stroke-width="0.7"/>
<polyline points="1919.5,916.8 1938.2,927.5" fill="none" stroke="#8d817c" stroke-width="0.7"/>
<polyline points="1919.5,919.7 1938.2,930.4" fill="none" stroke="#8d817c" stroke-width="0.7"/>
<polyline points="1919.5,922.6 1938.2,933.4" fill="none" stroke="#8d817c" stroke-width="0.7"/>
<polyline points="1919.5,925.5 1938.2,936.2" fill="none" stroke="#8d817c" stroke-width="0.7"/>
<polygon points="1798.3,818.7 2018.3,945.7 2018.3,940.3 1798.3,813.3" fill="#8dc3cc"/>
<polygon points="2018.3,945.7 2080.3,909.9 2080.3,904.5 2018.3,940.3" fill="#9bcdd3"/>
<polygon points="1798.3,813.3 2018.3,940.3 2080.3,904.5 1860.3,777.5" fill="#ece3d9"/>
<polygon points="1819.1,822.3 1876.2,855.3 1918.7,830.8 1861.5,797.8" fill="#ddd3c9"/>
<polygon points="1813.9,813.3 1862.4,841.3 1862.4,778.3 1813.9,750.3" fill="#d9ae78"/>
<polygon points="1862.4,841.3 1908.3,814.8 1908.3,751.8 1862.4,778.3" fill="#c18f60"/>
<polygon points="1813.9,750.3 1862.4,778.3 1908.3,751.8 1859.8,723.8" fill="#f3cf9b"/>
<polygon points="1813.9,757.3 1862.4,785.3 1862.4,778.3 1813.9,750.3" fill="#e2b882"/>
<polygon points="1862.4,785.3 1908.3,758.8 1908.3,751.8 1862.4,778.3" fill="#c99666"/>
<polygon points="1832.9,739.3 1881.4,767.3 1889.2,762.8 1840.7,734.8" fill="#d3ba9b"/>
<polygon points="1881.4,830.3 1889.2,825.8 1889.2,762.8 1881.4,767.3" fill="#a58767"/>
<polygon points="1818.7,786 1841.6,799.3 1841.6,775.8 1818.7,762.5" fill="#ede7e4"/>
<polygon points="1820.8,770.3 1839.4,781 1839.4,777.5 1820.8,766.8" fill="#553426"/>
<polyline points="1820.8,773.3 1839.4,784" fill="none" stroke="#8d817c" stroke-width="0.7"/>
<polyline points="1820.8,776.2 1839.4,787" fill="none" stroke="#8d817c" stroke-width="0.7"/>
<polyline points="1820.8,779.1 1839.4,789.9" fill="none" stroke="#8d817c" stroke-width="0.7"/>
<polyline points="1820.8,782 1839.4,792.8" fill="none" stroke="#8d817c" stroke-width="0.7"/>
<polyline points="1820.8,784.9 1839.4,795.6" fill="none" stroke="#8d817c" stroke-width="0.7"/>
<polygon points="1798.3,736.1 2018.3,863.1 2018.3,857.7 1798.3,730.7" fill="#8dc3cc"/>
<polygon points="2018.3,863.1 2080.3,827.3 2080.3,821.9 2018.3,857.7" fill="#9bcdd3"/>
<polygon points="1798.3,730.7 2018.3,857.7 2080.3,821.9 1860.3,694.9" fill="#ece3d9"/>
<polygon points="1967.2,825.2 2019.1,855.2 2061.6,830.7 2009.6,800.7" fill="#ddd3c9"/>
<polygon points="1962,816.2 2010.5,844.2 2010.5,781.2 1962,753.2" fill="#d9ae78"/>
<polygon points="2010.5,844.2 2056.4,817.7 2056.4,754.7 2010.5,781.2" fill="#c18f60"/>
<polygon points="1962,753.2 2010.5,781.2 2056.4,754.7 2007.9,726.7" fill="#f3cf9b"/>
<polygon points="1962,760.2 2010.5,788.2 2010.5,781.2 1962,753.2" fill="#e2b882"/>
<polygon points="2010.5,788.2 2056.4,761.7 2056.4,754.7 2010.5,781.2" fill="#c99666"/>
<polygon points="1981,742.2 2029.5,770.2 2037.3,765.7 1988.8,737.7" fill="#d3ba9b"/>
<polygon points="2029.5,833.2 2037.3,828.7 2037.3,765.7 2029.5,770.2" fill="#a58767"/>
<polygon points="1966.7,789 1989.7,802.2 1989.7,778.7 1966.7,765.5" fill="#ede7e4"/>
<polygon points="1968.9,773.2 1987.5,784 1987.5,780.5 1968.9,769.7" fill="#553426"/>
<polyline points="1968.9,776.2 1987.5,787" fill="none" stroke="#8d817c" stroke-width="0.7"/>
<polyline points="1968.9,779.1 1987.5,789.9" fill="none" stroke="#8d817c" stroke-width="0.7"/>
<polyline points="1968.9,782 1987.5,792.8" fill="none" stroke="#8d817c" stroke-width="0.7"/>
<polyline points="1968.9,784.9 1987.5,795.6" fill="none" stroke="#8d817c" stroke-width="0.7"/>
<polyline points="1968.9,787.8 1987.5,798.5" fill="none" stroke="#8d817c" stroke-width="0.7"/>
<polygon points="1798.3,653.5 2018.3,780.5 2018.3,775.1 1798.3,648.1" fill="#8dc3cc"/>
<polygon points="2018.3,780.5 2080.3,744.7 2080.3,739.3 2018.3,775.1" fill="#9bcdd3"/>
<polygon points="1798.3,648.1 2018.3,775.1 2080.3,739.3 1860.3,612.3" fill="#ece3d9"/>
<polygon points="1846.8,676.6 1957.6,740.6 2000.1,716.1 1889.2,652.1" fill="#ddd3c9"/>
<polygon points="1841.6,667.6 1890.1,695.6 1890.1,632.6 1841.6,604.6" fill="#d9ae78"/>
<polygon points="1890.1,695.6 1936,669.1 1936,606.1 1890.1,632.6" fill="#c18f60"/>
<polygon points="1841.6,604.6 1890.1,632.6 1936,606.1 1887.5,578.1" fill="#f3cf9b"/>
<polygon points="1841.6,611.6 1890.1,639.6 1890.1,632.6 1841.6,604.6" fill="#e2b882"/>
<polygon points="1890.1,639.6 1936,613.1 1936,606.1 1890.1,632.6" fill="#c99666"/>
<polygon points="1860.7,593.6 1909.1,621.6 1916.9,617.1 1868.4,589.1" fill="#d3ba9b"/>
<polygon points="1909.1,684.6 1916.9,680.1 1916.9,617.1 1909.1,621.6" fill="#a58767"/>
<polygon points="1846.4,640.4 1869.3,653.6 1869.3,630.1 1846.4,616.9" fill="#ede7e4"/>
<polygon points="1848.5,624.6 1867.1,635.4 1867.1,631.9 1848.5,621.1" fill="#553426"/>
<polyline points="1848.5,627.6 1867.1,638.4" fill="none" stroke="#8d817c" stroke-width="0.7"/>
<polyline points="1848.5,630.5 1867.1,641.2" fill="none" stroke="#8d817c" stroke-width="0.7"/>
<polyline points="1848.5,633.4 1867.1,644.2" fill="none" stroke="#8d817c" stroke-width="0.7"/>
<polyline points="1848.5,636.3 1867.1,647" fill="none" stroke="#8d817c" stroke-width="0.7"/>
<polyline points="1848.5,639.2 1867.1,650" fill="none" stroke="#8d817c" stroke-width="0.7"/>
<polygon points="1896.2,698.1 1944.7,726.1 1944.7,663.1 1896.2,635.1" fill="#d9ae78"/>
<polygon points="1944.7,726.1 1990.6,699.6 1990.6,636.6 1944.7,663.1" fill="#c18f60"/>
<polygon points="1896.2,635.1 1944.7,663.1 1990.6,636.6 1942.1,608.6" fill="#f3cf9b"/>
<polygon points="1896.2,642.1 1944.7,670.1 1944.7,663.1 1896.2,635.1" fill="#e2b882"/>
<polygon points="1944.7,670.1 1990.6,643.6 1990.6,636.6 1944.7,663.1" fill="#c99666"/>
<polygon points="1915.2,624.1 1963.7,652.1 1971.5,647.6 1923,619.6" fill="#d3ba9b"/>
<polygon points="1963.7,715.1 1971.5,710.6 1971.5,647.6 1963.7,652.1" fill="#a58767"/>
<polygon points="1900.9,670.9 1923.9,684.1 1923.9,660.6 1900.9,647.4" fill="#ede7e4"/>
<polygon points="1903.1,655.1 1921.7,665.9 1921.7,662.4 1903.1,651.6" fill="#553426"/>
<polyline points="1903.1,658.1 1921.7,668.9" fill="none" stroke="#8d817c" stroke-width="0.7"/>
<polyline points="1903.1,661 1921.7,671.8" fill="none" stroke="#8d817c" stroke-width="0.7"/>
<polyline points="1903.1,663.9 1921.7,674.7" fill="none" stroke="#8d817c" stroke-width="0.7"/>
<polyline points="1903.1,666.8 1921.7,677.5" fill="none" stroke="#8d817c" stroke-width="0.7"/>
<polyline points="1903.1,669.7 1921.7,680.5" fill="none" stroke="#8d817c" stroke-width="0.7"/>
<polygon points="2075.1,1015.1 2080.3,1012.1 2080.3,739.3 2075.1,742.3" fill="#7f99c3"/>
<polygon points="1798.3,920.9 1803.5,923.9 1803.5,651.1 1798.3,648.1" fill="#90a8cc"/>
<polygon points="2013.1,1044.9 2018.3,1047.9 2018.3,775.1 2013.1,772.1" fill="#90a8cc"/>
<polygon points="2018.3,1047.9 2023.5,1044.9 2023.5,772.1 2018.3,775.1" fill="#7f99c3"/>
<g>
<polygon points="1030.2,840.2 1136.7,901.1 1238.9,852.2 1238.9,841.3 1135.7,789.1" fill="#e8eaea"/>
<polygon points="961.7,776.5 972.6,771.7 1031.3,802.2 1031.3,813" fill="#e8eaea"/>
<polygon points="986.7,741.5 997,737.6 1027,752.8 1027,759.8 1003,754.3" fill="#d6d6d6"/>
<polygon points="952,764.3 962.2,760.4 1018.7,789.1 1018.7,797.2 968.3,771.7" fill="#d6d6d6"/>
<polygon points="1081.3,586.5 1097.6,577.8 1097.6,715.2 1081.3,723.9" fill="#d4d4d4"/>
<polygon points="1025.9,615.2 1041.1,607 1041.1,789.1 1025.9,796.7" fill="#d4d4d4"/>
<polygon points="1022.6,603.9 1096.5,562.6 1102,565.7 1102,576.1 1028,617 1022.6,613.5" fill="#d6d6d6"/>
<polygon points="1022.6,603.9 1096.5,562.6 1102,565.7 1028,607" fill="#dcdcdc"/>
<polygon points="1070.9,704.3 1080.2,699.4 1080.2,705.6 1070.9,710.5" fill="#5b93b8"/>
<polygon points="1042.4,721.1 1045.5,719.8 1045.5,725.4 1042.4,726.7" fill="#5b93b8"/>
<polygon points="1028.1,735.4 1098.2,695 1110,701.6 1110,722.3 1031.8,767 1028.1,765.2" fill="#b8acab"/>
<polygon points="1017.2,764.1 1025.4,759.8 1025.4,807.8 1017.2,803.5" fill="#b8acab"/>
<polygon points="1025.4,759.8 1031.3,763 1031.3,810.9 1025.4,807.8" fill="#aa9d9c"/>
<polygon points="1057.5,756.5 1125.6,719.2 1207.5,740.3 1207.5,761.5 1138.2,827.1 1057.5,781.3" fill="#d4d4d4"/>
<polygon points="1031.2,763.9 1057.5,748.8 1057.5,779.5" fill="#4a8fc4"/>
<polygon points="1063.5,745.6 1118.7,713.3 1129.3,719 1123.1,722.3 1118.1,719.8 1063.5,753" fill="#8ea8ca"/>
<polygon points="1203.6,637.3 1208.8,640.4 1208.8,741 1203.6,741" fill="#dadada"/>
<path d="M1137.4 732.6 L1172.1 710.9 L1180.2 714.9 L1182.1 719.2 L1178 753.4 L1139.8 776.4 L1129.9 770.4 L1131.8 742.8 Z" fill="#b8acab"/>
<path d="M1102.6 767 L1114.4 760.2 L1142.3 773.9 L1131.8 798.7 L1129.3 783.8 Z" fill="#b8acab"/>
<path d="M1082.1 775.7 L1125.6 796.2" fill="none" stroke="#b8acab" stroke-width="10" stroke-linecap="round"/>
<ellipse cx="1148.5" cy="692.2" rx="11.5" ry="14.5" fill="#6593b3" transform="rotate(-12 1148.5 692.2)"/>
<path d="M1142.3 704.3 L1156 706.8 L1164.1 706.2 L1169 710.5 L1138 729.8 L1130.5 740.3 L1118.1 748.4 L1109.4 749 L1094.5 736.6 L1090.8 726.7 L1097 729.2 L1106.9 736.6 L1119.4 731.6 L1130.5 717.4 L1139.2 711.8 Z" fill="#6593b3"/>
<ellipse cx="1121.2" cy="761.5" rx="11" ry="9" fill="#6593b3"/>
<ellipse cx="1105.7" cy="729.2" rx="12.5" ry="6.5" fill="none" stroke="#666666" stroke-width="2.2" transform="rotate(28 1105.7 729.2)"/>
<polyline points="1107.6,734.7 1096,751.5" fill="none" stroke="#666666" stroke-width="1.8"/>
<polygon points="1031.3,764.1 1031.3,809.8 1163.9,890.2 1163.9,794.6 1140,781.5 1138.3,780.9 1138.3,827.2" fill="#7395ba"/>
<path d="M1140 781.5 L1208.5 739.1 L1232.4 753.3 L1235.7 756.5 L1168.3 793.5 L1163.9 795.2 Z" fill="#8ea8ca"/>
<polyline points="1141.1,782.6 1164.3,795 1235.2,756.5" fill="none" stroke="#a9bedb" stroke-width="1.2"/>
<polygon points="1163.9,795.2 1235.7,756.5 1235.7,851.1 1163.9,890.2" fill="#8ea8ca"/>
<polygon points="1163.9,840.2 1235.7,800 1235.7,851.1 1163.9,890.2" fill="#d3d3d3"/>
<polygon points="1169.3,804.8 1175.9,802.2 1175.9,810.9 1169.3,813.5" fill="#e8261a"/>
<polygon points="1227,771.3 1233.5,768.5 1233.5,777.2 1227,780" fill="#e8261a"/>
<polygon points="1168.7,870 1175.9,867 1175.9,876.1 1168.7,879.1" fill="#f4f6fa"/>
<polygon points="1227,836.5 1233.9,833.5 1233.9,843 1227,846.1" fill="#f4f6fa"/>
<path d="M1080.9 660.9 L1154.7 620.1 Q1181.5 621.1 1205 637.3 L1132.4 676 L1116.9 668.3 Q1097 658.4 1080.9 660.9 Z" fill="#8ea8ca"/>
<polyline points="1133,677.2 1204.8,638.7" fill="none" stroke="#b9cae2" stroke-width="1.6"/>
<path d="M1060.7 780.1 L1060.7 699.4 C1060.7 669.5 1079.6 662.7 1094.5 663.3 C1114.4 667.7 1133.3 674.5 1133.3 689.4 L1133.3 824.3" fill="none" stroke="#d6d6d6" stroke-width="6.2" stroke-linejoin="round"/>
<polyline points="1059.1,780.9 1133.3,824.3" fill="none" stroke="#d6d6d6" stroke-width="5"/>
<polygon points="1084.3,842.4 1084,838.2 1083.1,833.8 1081.6,829.3 1079.6,824.8 1077.2,820.5 1074.3,816.5 1071.2,812.9 1067.8,809.9 1064.3,807.4 1060.9,805.7 1057.5,804.7 1054.4,804.5 1051.5,805.1 1049.1,806.5 1047.1,808.6 1045.6,811.3 1044.7,814.7 1044.4,818.5 1044.7,822.7 1045.6,827.1 1047.1,831.6 1049.1,836.1 1051.5,840.4 1054.4,844.4 1057.5,848 1060.9,851 1064.3,853.4 1067.8,855.2 1071.2,856.1 1074.3,856.3 1077.2,855.7 1079.6,854.4 1081.6,852.3 1083.1,849.5 1084,846.2" fill="#8b8b8b"/>
<polygon points="1145.2,882.9 1144.9,879.9 1144.3,876.8 1143.2,873.5 1141.8,870.3 1140.1,867.2 1138,864.3 1135.8,861.8 1133.4,859.6 1130.9,857.8 1128.4,856.6 1126,855.9 1123.7,855.8 1121.7,856.2 1119.9,857.2 1118.5,858.7 1117.4,860.6 1116.8,863 1116.6,865.8 1116.8,868.8 1117.4,871.9 1118.5,875.2 1119.9,878.4 1121.7,881.5 1123.7,884.3 1126,886.9 1128.4,889.1 1130.9,890.8 1133.4,892.1 1135.8,892.8 1138,892.9 1140.1,892.5 1141.8,891.5 1143.2,890 1144.3,888.1 1144.9,885.7" fill="#8b8b8b"/>
</g>
<polygon points="862.9,1016.2 887.7,1003.8 887.7,1011.3 862.9,1024.2" fill="#efefef"/>
<polygon points="784.7,1038.6 875.3,993.9 875.3,1016.2 784.7,1060.9" fill="#b8966a"/>
<polygon points="784.7,1038.6 875.3,993.9 875.3,999.8 784.7,1044.5" fill="#dcc08e"/>
<polygon points="784.7,1055 875.3,1010.3 875.3,1016.2 784.7,1060.9" fill="#d2b380"/>
<polygon points="803.3,1035.4 812.7,1030.6 812.7,1041.1 803.3,1045.8" fill="#c9a876"/>
<polygon points="838.1,1018.2 847.5,1013.5 847.5,1023.9 838.1,1028.6" fill="#c9a876"/>
<polygon points="865.4,1004.7 874.8,1000 874.8,1010.5 865.4,1015.2" fill="#c9a876"/>
<polygon points="862.2,987.9 875.3,993.9 784.7,1038.6 773.5,1033.6" fill="#e3c896"/>
<polygon points="700.2,885.8 784.7,935.5 784.7,1034.1 700.2,991.4" fill="#f6e8d6"/>
<polygon points="700.2,885.8 784.7,935.5 784.7,950.4 700.2,900" fill="#ebcda4"/>
<polyline points="742.4,910.7 742.4,1012.5" fill="none" stroke="#fbf3ea" stroke-width="1.2"/>
<polygon points="704.4,895.8 723.1,906.2 723.1,924.1 704.4,913.6" fill="#f6f2ef"/>
<polygon points="705.7,898 721.8,907 721.8,909.5 705.7,900.5" fill="#8a6b5c"/>
<polyline points="705.9,902.7 721.6,911.5" fill="none" stroke="#b5aaa5" stroke-width="0.7"/>
<polyline points="705.9,905.2 721.6,914" fill="none" stroke="#b5aaa5" stroke-width="0.7"/>
<polyline points="705.9,907.7 721.6,916.4" fill="none" stroke="#b5aaa5" stroke-width="0.7"/>
<polyline points="705.9,910.2 721.6,918.9" fill="none" stroke="#b5aaa5" stroke-width="0.7"/>
<polygon points="749.1,920.6 767.8,931 767.8,948.9 749.1,938.5" fill="#f6f2ef"/>
<polygon points="750.4,922.8 766.5,931.9 766.5,934.4 750.4,925.3" fill="#8a6b5c"/>
<polyline points="750.6,927.6 766.3,936.3" fill="none" stroke="#b5aaa5" stroke-width="0.7"/>
<polyline points="750.6,930 766.3,938.8" fill="none" stroke="#b5aaa5" stroke-width="0.7"/>
<polyline points="750.6,932.5 766.3,941.3" fill="none" stroke="#b5aaa5" stroke-width="0.7"/>
<polyline points="750.6,935 766.3,943.8" fill="none" stroke="#b5aaa5" stroke-width="0.7"/>
<polygon points="704.4,949.2 723.1,959.6 723.1,977.5 704.4,967" fill="#f6f2ef" opacity="0.8"/>
<polyline points="705.9,956.1 721.6,964.9" fill="none" stroke="#b5aaa5" stroke-width="0.7"/>
<polyline points="705.9,958.6 721.6,967.4" fill="none" stroke="#b5aaa5" stroke-width="0.7"/>
<polyline points="705.9,961.1 721.6,969.8" fill="none" stroke="#b5aaa5" stroke-width="0.7"/>
<polyline points="705.9,963.6 721.6,972.3" fill="none" stroke="#b5aaa5" stroke-width="0.7"/>
<polygon points="749.1,972.8 767.8,983.2 767.8,1001.1 749.1,990.6" fill="#f6f2ef" opacity="0.8"/>
<polyline points="750.6,979.7 766.3,988.5" fill="none" stroke="#b5aaa5" stroke-width="0.7"/>
<polyline points="750.6,982.2 766.3,991" fill="none" stroke="#b5aaa5" stroke-width="0.7"/>
<polyline points="750.6,984.7 766.3,993.4" fill="none" stroke="#b5aaa5" stroke-width="0.7"/>
<polyline points="750.6,987.2 766.3,995.9" fill="none" stroke="#b5aaa5" stroke-width="0.7"/>
<polygon points="784.7,935.5 862.2,891.3 862.2,991.4 784.7,1034.1" fill="#ecd3bc"/>
<polygon points="784.7,935.5 862.2,891.3 862.2,905.7 784.7,950.4" fill="#e0b78d"/>
<polygon points="800.8,926.3 806.8,922.8 806.8,1022.2 800.8,1025.2" fill="#d6bfaa" opacity="0.8"/>
<polygon points="841.3,903.2 847.3,899.7 847.3,999.1 841.3,1002.1" fill="#d6bfaa" opacity="0.8"/>
<polyline points="823.2,913.9 823.2,1012.5" fill="none" stroke="#f3e2d2" stroke-width="1.2"/>
<polyline points="784.7,988.9 862.2,945.4" fill="none" stroke="#f1dfcd" stroke-width="1"/>
<polygon points="773.5,841.9 862.2,891.3 784.7,935.5 700.2,885.8" fill="#f6dcb5"/>
<polygon points="718.8,875.1 725.8,871.2 809.5,919.9 802.8,924.3" fill="#dcc6a8" opacity="0.9"/>
<polygon points="759.8,851.8 766.5,847.8 850.5,897.5 843.5,901.5" fill="#dcc6a8" opacity="0.9"/>
<polyline points="738.7,862.7 823.2,913.1" fill="none" stroke="#d9b88c" stroke-width="1.4"/>
<polyline points="742.4,910.7 818.2,866.7" fill="none" stroke="#d9b88c" stroke-width="1.4"/>
<circle cx="584.7" cy="895" r="14.2" fill="#4d84a6"/>
<path d="M595.1 890.6 L600.4 895 L598.9 900.2 L594.4 901.7 Z" fill="#4d84a6" stroke="#4d84a6" stroke-width="2" stroke-linejoin="round"/>
<path d="M576.5 904.7 L595.1 907.7 L595.4 911.4 L601.1 916.6 L602.9 927.1 L599.3 949.4 L598.4 979.2 L594.4 1038.9 L595.4 1049.6 L602.6 1051.5 L607.8 1053.8 L605.6 1057.5 L589.2 1059.1 L583.2 1057.6 L581 1050.8 L581.7 1024 L582.5 1006.8 L578.8 1016.5 L572 1046.3 L569.8 1059.7 L573.5 1066.4 L572.8 1071.7 L565.3 1073.4 L559.4 1068.7 L557.1 1058.2 L556.4 1046.3 L562.4 1009.1 L566.8 979.2 L567.6 962.8 L560.9 952.4 L559.4 934.5 L563.8 924.1 L576.5 913.7 Z" fill="#4d84a6" stroke="#4d84a6" stroke-width="2" stroke-linejoin="round"/>
<polygon points="584.7,1068.4 679.1,1124.3 763.5,1075.8 763.5,1065.9" fill="#ececec"/>
<polygon points="583.5,1056 679.1,1109.4 679.1,1120.5 583.5,1065.9" fill="#d4b888"/>
<polygon points="679.1,1109.4 762.3,1062.2 762.3,1072.1 679.1,1120.5" fill="#c2a070"/>
<polygon points="597.1,1068.1 608.3,1074.3 608.3,1078 597.1,1071.8" fill="#b8976a"/>
<polygon points="622,1082 633.1,1088.2 633.1,1091.9 622,1085.7" fill="#b8976a"/>
<polygon points="651.8,1098.7 663,1104.9 663,1108.6 651.8,1102.4" fill="#b8976a"/>
<polygon points="689,1108.2 701.5,1101.2 701.5,1105.7 689,1112.6" fill="#a98a5e"/>
<polygon points="718.8,1091.2 731.3,1084.2 731.3,1088.7 718.8,1095.7" fill="#a98a5e"/>
<polygon points="743.7,1077 756.1,1070.1 756.1,1074.5 743.7,1081.5" fill="#a98a5e"/>
<polygon points="604.1,926.8 633.9,941.7 633.9,979 604.1,991.4" fill="#dfb684"/>
<polygon points="598.4,933 605.1,936.7 605.1,991.4 598.4,986.9" fill="#cf9d62"/>
<polygon points="605.1,923.1 633.9,939.2 612,951.6 598.4,944.2" fill="#f3cf9b"/>
<polygon points="605.1,931.3 614.5,926.3 617.5,928.3 608.1,933.3" fill="#d8bf9f"/>
<polygon points="586,988.9 681.6,1044.8 681.6,1103.7 586,1049.8" fill="#efdcc6"/>
<polygon points="586,994.4 681.6,1050.3 681.6,1053 586,997.1" fill="#dcc3a8"/>
<polygon points="586,1000.6 681.6,1056.5 681.6,1059.2 586,1003.3" fill="#dcc3a8"/>
<polygon points="586,1006.8 681.6,1062.7 681.6,1065.4 586,1009.5" fill="#dcc3a8"/>
<polygon points="586,1013 681.6,1068.9 681.6,1071.6 586,1015.7" fill="#dcc3a8"/>
<polygon points="586,1019.2 681.6,1075.1 681.6,1077.8 586,1021.9" fill="#dcc3a8"/>
<polygon points="586,1025.4 681.6,1081.3 681.6,1084 586,1028.1" fill="#dcc3a8"/>
<polygon points="586,1031.6 681.6,1087.5 681.6,1090.2 586,1034.4" fill="#dcc3a8"/>
<polygon points="586,1037.8 681.6,1093.7 681.6,1096.5 586,1040.6" fill="#dcc3a8"/>
<polygon points="586,1044 681.6,1099.9 681.6,1102.7 586,1046.8" fill="#dcc3a8"/>
<polygon points="681.6,1044.8 761.1,997.6 761.1,1057.2 681.6,1103.7" fill="#ead3bb"/>
<polygon points="681.6,1050.3 761.1,1003.1 761.1,1005.8 681.6,1053" fill="#d3b9a2"/>
<polygon points="681.6,1056.5 761.1,1009.3 761.1,1012 681.6,1059.2" fill="#d3b9a2"/>
<polygon points="681.6,1062.7 761.1,1015.5 761.1,1018.2 681.6,1065.4" fill="#d3b9a2"/>
<polygon points="681.6,1068.9 761.1,1021.7 761.1,1024.4 681.6,1071.6" fill="#d3b9a2"/>
<polygon points="681.6,1075.1 761.1,1027.9 761.1,1030.6 681.6,1077.8" fill="#d3b9a2"/>
<polygon points="681.6,1081.3 761.1,1034.1 761.1,1036.8 681.6,1084" fill="#d3b9a2"/>
<polygon points="681.6,1087.5 761.1,1040.3 761.1,1043.1 681.6,1090.2" fill="#d3b9a2"/>
<polygon points="681.6,1093.7 761.1,1046.5 761.1,1049.3 681.6,1096.5" fill="#d3b9a2"/>
<polygon points="681.6,1099.9 761.1,1052.7 761.1,1055.5 681.6,1102.7" fill="#d3b9a2"/>
<polyline points="719.3,1022.4 719.3,1082" fill="none" stroke="#c9ad90" stroke-width="1.2"/>
<polygon points="615,1005.8 650.5,1026.7 650.5,1087 615,1066.4" fill="#ffffff" opacity="0.45"/>
<polygon points="595.1,1008.8 612,1018.2 612,1035.1 595.1,1025.7" fill="#f6f2ef"/>
<polygon points="596.4,1011 610.8,1019.1 610.8,1021.6 596.4,1013.5" fill="#8a6b5c"/>
<polyline points="596.6,1015.7 610.5,1023.5" fill="none" stroke="#b5aaa5" stroke-width="0.7"/>
<polyline points="596.6,1018.2 610.5,1026" fill="none" stroke="#b5aaa5" stroke-width="0.7"/>
<polyline points="596.6,1020.7 610.5,1028.5" fill="none" stroke="#b5aaa5" stroke-width="0.7"/>
<polyline points="596.6,1023.2 610.5,1031" fill="none" stroke="#b5aaa5" stroke-width="0.7"/>
<polygon points="665.4,943 761.1,997.6 681.6,1044.8 586,988.9" fill="#eabf8e"/>
<polygon points="692.8,959.1 730,980.2 650.5,1026.7 615,1005.8" fill="#f5e4d0" opacity="0.85"/>
<polygon points="629.4,965.3 635.6,962.1 761.1,1034.1 754.9,1038.1" fill="#c9a070" opacity="0.7"/>
<polygon points="586,988.9 681.6,1044.8 681.6,1048 586,992.1" fill="#d9ad7c"/>
<polygon points="681.6,1044.8 761.1,997.6 761.1,1000.8 681.6,1048" fill="#c99b6c"/>
<polygon points="764.8,1121.8 844.3,1165.3 937.4,1110.6 930,1105.6" fill="#efefef"/>
<polygon points="763.5,1103.2 851.7,1054.7 930,1100.7 841.8,1151.6" fill="#e6c998"/>
<polygon points="763.5,1103.2 841.8,1151.6 841.8,1161.5 763.5,1113.1" fill="#d2b07e"/>
<polygon points="841.8,1151.6 930,1100.7 930,1110.6 841.8,1161.5" fill="#bf9c6b"/>
<polyline points="782.9,1092.5 861.2,1140.9" fill="none" stroke="#d1b07c" stroke-width="1"/>
<polyline points="803.2,1081.4 881.5,1129.8" fill="none" stroke="#d1b07c" stroke-width="1"/>
<polyline points="823.5,1070.2 901.7,1118.7" fill="none" stroke="#d1b07c" stroke-width="1"/>
<polyline points="841.1,1060.5 919.4,1109" fill="none" stroke="#d1b07c" stroke-width="1"/>
<polygon points="790.9,1123.8 802,1130.8 802,1134.5 790.9,1127.6" fill="#b8976a"/>
<polygon points="815.7,1139.2 826.9,1146.2 826.9,1149.9 815.7,1143" fill="#b8976a"/>
<polygon points="853,1148.9 865.4,1141.7 865.4,1146.1 853,1153.3" fill="#a98a5e"/>
<polygon points="885.3,1130.2 897.7,1123 897.7,1127.5 885.3,1134.7" fill="#a98a5e"/>
<polygon points="912.6,1114.4 925,1107.2 925,1111.7 912.6,1118.9" fill="#a98a5e"/>
<polygon points="789.6,1026.2 839.3,1054.7 839.3,1118.8 789.6,1090.2" fill="#ebc9a0"/>
<polygon points="839.3,1054.7 884.8,1029.9 884.8,1092.7 839.3,1118.8" fill="#dcb48b"/>
<polygon points="859.2,1044 865.4,1040.6 865.4,1103.7 859.2,1107.4" fill="#c4ac94"/>
<polygon points="828.1,1002.6 884.8,1029.9 839.3,1054.7 789.6,1026.2" fill="#f6dcb5"/>
<polygon points="812,1011.8 818.2,1008.3 865.4,1040.6 859.2,1044" fill="#dcc6a8"/>
<polygon points="794.6,1038.1 815.7,1049.9 815.7,1068.5 794.6,1056.7" fill="#f6f2ef"/>
<polygon points="795.8,1040.3 814.5,1050.8 814.5,1053.2 795.8,1042.8" fill="#8a6b5c"/>
<polyline points="796.1,1045 814.2,1055.2" fill="none" stroke="#b5aaa5" stroke-width="0.7"/>
<polyline points="796.1,1047.5 814.2,1057.7" fill="none" stroke="#b5aaa5" stroke-width="0.7"/>
<polyline points="796.1,1050 814.2,1060.2" fill="none" stroke="#b5aaa5" stroke-width="0.7"/>
<polyline points="796.1,1052.5 814.2,1062.6" fill="none" stroke="#b5aaa5" stroke-width="0.7"/>
<polygon points="761.1,1026.2 788.4,1039.8 788.4,1059.7 761.1,1046" fill="#d9a860" opacity="0.85"/>
<polygon points="788.4,1039.8 807,1029.9 807,1070.9 788.4,1073.4" fill="#e7b96f" opacity="0.7"/>
<polygon points="777.2,1016.2 807,1029.9 788.4,1039.8 761.1,1026.2" fill="#f0c98c" opacity="0.9"/>
<circle cx="748.6" cy="1015.5" r="13.8" fill="#4d84a6"/>
<path d="M758.6 1006.3 L765.5 1011.8 L763.5 1017.5 L757.3 1018.7 Z" fill="#4d84a6" stroke="#4d84a6" stroke-width="2" stroke-linejoin="round"/>
<path d="M740 1027.4 L756.1 1028.6 L758.6 1036.1 L764.8 1051 L778.5 1070.9 L789.6 1075.3 L795.8 1078.3 L793.8 1084.8 L784.7 1083.3 L766 1080.8 L765.5 1105.6 L764.8 1130.5 L762.3 1155.3 L763.5 1177.7 L774.7 1183.1 L776 1187.1 L751.1 1189.1 L749.1 1177.7 L748.1 1145.4 L746.9 1166.5 L746.2 1175.7 L738.7 1180.7 L730.3 1179.2 L728.8 1167.7 L729.3 1142.9 L733.7 1113.1 L734.2 1093.2 L731.3 1058.5 L730 1043.5 L732.5 1035.6 Z" fill="#4d84a6" stroke="#4d84a6" stroke-width="2" stroke-linejoin="round"/>
<polygon points="1286.8,861.2 1412,880.9 1392.4,904.8 1583.5,1040.5 1538.4,1081.5 1357.3,955.1 1332.7,979.7" fill="#f3b966" opacity="0.95"/>
<g transform="matrix(-1.03,-0.0412,0,1.05,3024.5,380.25)">
<polygon points="1030.2,840.2 1136.7,901.1 1238.9,852.2 1238.9,841.3 1135.7,789.1" fill="#e8eaea"/>
<polygon points="961.7,776.5 972.6,771.7 1031.3,802.2 1031.3,813" fill="#e8eaea"/>
<polygon points="986.7,741.5 997,737.6 1027,752.8 1027,759.8 1003,754.3" fill="#7395ba"/>
<polygon points="952,764.3 962.2,760.4 1018.7,789.1 1018.7,797.2 968.3,771.7" fill="#7395ba"/>
<polygon points="1081.3,586.5 1097.6,577.8 1097.6,715.2 1081.3,723.9" fill="#d4d4d4"/>
<polygon points="1025.9,615.2 1041.1,607 1041.1,789.1 1025.9,796.7" fill="#d4d4d4"/>
<polygon points="1022.6,603.9 1096.5,562.6 1102,565.7 1102,576.1 1028,617 1022.6,613.5" fill="#d6d6d6"/>
<polygon points="1022.6,603.9 1096.5,562.6 1102,565.7 1028,607" fill="#dcdcdc"/>
<polygon points="1070.9,704.3 1080.2,699.4 1080.2,705.6 1070.9,710.5" fill="#5b93b8"/>
<polygon points="1042.4,721.1 1045.5,719.8 1045.5,725.4 1042.4,726.7" fill="#5b93b8"/>
<polygon points="1028.1,735.4 1098.2,695 1110,701.6 1110,722.3 1031.8,767 1028.1,765.2" fill="#8f8f8f"/>
<polygon points="1017.2,764.1 1025.4,759.8 1025.4,807.8 1017.2,803.5" fill="#8f8f8f"/>
<polygon points="1025.4,759.8 1031.3,763 1031.3,810.9 1025.4,807.8" fill="#858585"/>
<polygon points="1057.5,756.5 1125.6,719.2 1207.5,740.3 1207.5,761.5 1138.2,827.1 1057.5,781.3" fill="#d4d4d4"/>
<polygon points="1031.2,763.9 1057.5,748.8 1057.5,779.5" fill="#4a8fc4"/>
<polygon points="1063.5,745.6 1118.7,713.3 1129.3,719 1123.1,722.3 1118.1,719.8 1063.5,753" fill="#8ea8ca"/>
<polygon points="1203.6,637.3 1208.8,640.4 1208.8,741 1203.6,741" fill="#dadada"/>
<path d="M1137.4 732.6 L1172.1 710.9 L1180.2 714.9 L1182.1 719.2 L1178 753.4 L1139.8 776.4 L1129.9 770.4 L1131.8 742.8 Z" fill="#b8acab"/>
<path d="M1102.6 767 L1114.4 760.2 L1142.3 773.9 L1131.8 798.7 L1129.3 783.8 Z" fill="#b8acab"/>
<path d="M1082.1 775.7 L1125.6 796.2" fill="none" stroke="#b8acab" stroke-width="10" stroke-linecap="round"/>
<ellipse cx="1148.5" cy="692.2" rx="11.5" ry="14.5" fill="#6593b3" transform="rotate(-12 1148.5 692.2)"/>
<path d="M1142.3 704.3 L1156 706.8 L1164.1 706.2 L1169 710.5 L1138 729.8 L1130.5 740.3 L1118.1 748.4 L1109.4 749 L1094.5 736.6 L1090.8 726.7 L1097 729.2 L1106.9 736.6 L1119.4 731.6 L1130.5 717.4 L1139.2 711.8 Z" fill="#6593b3"/>
<ellipse cx="1121.2" cy="761.5" rx="11" ry="9" fill="#6593b3"/>
<ellipse cx="1105.7" cy="729.2" rx="12.5" ry="6.5" fill="none" stroke="#666666" stroke-width="2.2" transform="rotate(28 1105.7 729.2)"/>
<polyline points="1107.6,734.7 1096,751.5" fill="none" stroke="#666666" stroke-width="1.8"/>
<polygon points="1031.3,764.1 1031.3,809.8 1163.9,890.2 1163.9,794.6 1140,781.5 1138.3,780.9 1138.3,827.2" fill="#7395ba"/>
<path d="M1140 781.5 L1208.5 739.1 L1232.4 753.3 L1235.7 756.5 L1168.3 793.5 L1163.9 795.2 Z" fill="#8ea8ca"/>
<polyline points="1141.1,782.6 1164.3,795 1235.2,756.5" fill="none" stroke="#a9bedb" stroke-width="1.2"/>
<polygon points="1163.9,795.2 1235.7,756.5 1235.7,851.1 1163.9,890.2" fill="#8ea8ca"/>
<polygon points="1169.3,804.8 1175.9,802.2 1175.9,810.9 1169.3,813.5" fill="#e8261a"/>
<polygon points="1227,771.3 1233.5,768.5 1233.5,777.2 1227,780" fill="#e8261a"/>
<polygon points="1168.7,870 1175.9,867 1175.9,876.1 1168.7,879.1" fill="#f4f6fa"/>
<polygon points="1227,836.5 1233.9,833.5 1233.9,843 1227,846.1" fill="#f4f6fa"/>
<path d="M1080.9 660.9 L1154.7 620.1 Q1181.5 621.1 1205 637.3 L1132.4 676 L1116.9 668.3 Q1097 658.4 1080.9 660.9 Z" fill="#8ea8ca"/>
<polyline points="1133,677.2 1204.8,638.7" fill="none" stroke="#b9cae2" stroke-width="1.6"/>
<path d="M1060.7 780.1 L1060.7 699.4 C1060.7 669.5 1079.6 662.7 1094.5 663.3 C1114.4 667.7 1133.3 674.5 1133.3 689.4 L1133.3 824.3" fill="none" stroke="#d6d6d6" stroke-width="6.2" stroke-linejoin="round"/>
<polyline points="1059.1,780.9 1133.3,824.3" fill="none" stroke="#d6d6d6" stroke-width="5"/>
<polygon points="1084.3,842.4 1084,838.2 1083.1,833.8 1081.6,829.3 1079.6,824.8 1077.2,820.5 1074.3,816.5 1071.2,812.9 1067.8,809.9 1064.3,807.4 1060.9,805.7 1057.5,804.7 1054.4,804.5 1051.5,805.1 1049.1,806.5 1047.1,808.6 1045.6,811.3 1044.7,814.7 1044.4,818.5 1044.7,822.7 1045.6,827.1 1047.1,831.6 1049.1,836.1 1051.5,840.4 1054.4,844.4 1057.5,848 1060.9,851 1064.3,853.4 1067.8,855.2 1071.2,856.1 1074.3,856.3 1077.2,855.7 1079.6,854.4 1081.6,852.3 1083.1,849.5 1084,846.2" fill="#8b8b8b"/>
<polygon points="1145.2,882.9 1144.9,879.9 1144.3,876.8 1143.2,873.5 1141.8,870.3 1140.1,867.2 1138,864.3 1135.8,861.8 1133.4,859.6 1130.9,857.8 1128.4,856.6 1126,855.9 1123.7,855.8 1121.7,856.2 1119.9,857.2 1118.5,858.7 1117.4,860.6 1116.8,863 1116.6,865.8 1116.8,868.8 1117.4,871.9 1118.5,875.2 1119.9,878.4 1121.7,881.5 1123.7,884.3 1126,886.9 1128.4,889.1 1130.9,890.8 1133.4,892.1 1135.8,892.8 1138,892.9 1140.1,892.5 1141.8,891.5 1143.2,890 1144.3,888.1 1144.9,885.7" fill="#8b8b8b"/>
</g>
<polygon points="1787.3,1061.6 1783.7,1059.7 1780.1,1057.7 1776.6,1055.6 1773.3,1053.3 1770,1050.9 1766.8,1048.3 1763.8,1045.6 1760.8,1042.8 1758,1039.9 1755.2,1036.8 1752.7,1033.7 1750.2,1030.4 1747.9,1027 1745.7,1023.6 1743.7,1020.1 1741.8,1016.5 1740,1012.8 1738.4,1009 1737,1005.2 1735.7,1001.3 1734.6,997.4 1733.6,993.4 1732.8,989.4 1732.2,985.4 1731.7,981.3 1731.4,977.3 1731.3,973.2 1731.3,969.1 1731.5,965 1731.9,961 1732.4,956.9 1733.1,952.9 1734,948.9 1735,945 1736.2,941.1 1737.6,937.2 1739.1,933.4 1740.7,929.7 1742.5,926 1744.5,922.5 1773.8,939.2 1772.5,941.6 1771.3,944 1770.2,946.5 1769.2,949 1768.4,951.6 1767.6,954.1 1766.9,956.7 1766.3,959.4 1765.9,962 1765.5,964.7 1765.3,967.4 1765.1,970.1 1765.1,972.8 1765.2,975.5 1765.4,978.2 1765.7,980.9 1766.1,983.5 1766.6,986.2 1767.3,988.8 1768,991.4 1768.9,993.9 1769.8,996.5 1770.9,998.9 1772,1001.4 1773.3,1003.8 1774.6,1006.1 1776.1,1008.4 1777.6,1010.6 1779.2,1012.8 1780.9,1014.8 1782.7,1016.9 1784.6,1018.8 1786.6,1020.7 1788.6,1022.4 1790.7,1024.1 1792.8,1025.7 1795.1,1027.2 1797.4,1028.7 1799.7,1030 1802.1,1031.2" fill="#ec4b4a" opacity="0.96"/>
<polygon points="1766.5,1093.9 1761.6,1091.2 1756.8,1088.3 1752.2,1085.2 1747.7,1082 1743.3,1078.5 1739,1074.9 1734.9,1071.1 1731,1067.2 1727.2,1063.1 1723.6,1058.8 1720.2,1054.4 1716.9,1049.9 1713.9,1045.2 1711,1040.4 1708.3,1035.6 1705.8,1030.6 1703.6,1025.5 1701.5,1020.3 1699.6,1015 1698,1009.7 1696.6,1004.3 1695.4,998.9 1694.4,993.4 1693.6,987.8 1693.1,982.3 1692.8,976.7 1692.7,971.1 1692.8,965.6 1693.2,960 1693.8,954.5 1694.6,948.9 1695.6,943.5 1696.9,938 1698.4,932.6 1700.1,927.3 1702,922.1 1704.1,916.9 1706.4,911.9 1708.9,906.9 1711.7,902 1722.3,908.2 1719.8,912.7 1717.5,917.2 1715.4,921.8 1713.4,926.5 1711.7,931.3 1710.2,936.1 1708.8,941 1707.7,946 1706.7,951 1706,956 1705.5,961.1 1705.1,966.1 1705,971.2 1705.1,976.3 1705.4,981.4 1705.9,986.4 1706.5,991.4 1707.4,996.4 1708.5,1001.4 1709.8,1006.3 1711.3,1011.2 1713,1016 1714.9,1020.7 1717,1025.3 1719.2,1029.9 1721.7,1034.3 1724.3,1038.7 1727.1,1042.9 1730,1047.1 1733.2,1051.1 1736.4,1054.9 1739.9,1058.7 1743.5,1062.3 1747.2,1065.7 1751.1,1069 1755.1,1072.1 1759.2,1075.1 1763.4,1077.9 1767.8,1080.6 1772.2,1083" fill="#ec4b4a" opacity="0.96"/>
<polygon points="1745.9,1112.8 1740.3,1109.6 1734.9,1106.3 1729.6,1102.7 1724.4,1098.9 1719.5,1094.9 1714.6,1090.7 1710,1086.3 1705.5,1081.8 1701.2,1077.1 1697.1,1072.2 1693.2,1067.1 1689.5,1061.9 1686.1,1056.5 1682.8,1051 1679.8,1045.4 1677,1039.7 1674.4,1033.8 1672,1027.9 1669.9,1021.9 1668.1,1015.7 1666.5,1009.6 1665.1,1003.3 1664,997 1663.1,990.7 1662.5,984.3 1662.2,978 1662.1,971.6 1662.3,965.2 1662.7,958.8 1663.4,952.5 1664.3,946.1 1665.5,939.9 1666.9,933.6 1668.6,927.5 1670.5,921.4 1672.7,915.4 1675.1,909.5 1677.7,903.7 1680.6,898 1683.7,892.4 1688,894.8 1684.9,900.2 1682.2,905.8 1679.6,911.4 1677.3,917.1 1675.2,923 1673.3,928.9 1671.7,934.8 1670.3,940.9 1669.1,947 1668.2,953.1 1667.6,959.2 1667.2,965.4 1667,971.6 1667.1,977.8 1667.4,984 1668,990.1 1668.8,996.3 1669.9,1002.4 1671.2,1008.4 1672.8,1014.4 1674.6,1020.3 1676.6,1026.2 1678.9,1031.9 1681.4,1037.6 1684.1,1043.2 1687.1,1048.6 1690.2,1053.9 1693.6,1059.1 1697.2,1064.2 1700.9,1069.1 1704.9,1073.8 1709.1,1078.4 1713.4,1082.8 1717.9,1087.1 1722.6,1091.1 1727.4,1095 1732.4,1098.7 1737.5,1102.1 1742.8,1105.4 1748.2,1108.4" fill="#ec4b4a" opacity="0.96"/>
<polyline points="1164,615.2 2095.6,1163.8" fill="none" stroke="#8f8f8f" stroke-width="2" stroke-dasharray="9 7"/>
<polyline points="773.6,841.7 862.2,891.3" fill="none" stroke="#cdb592" stroke-width="2" stroke-dasharray="9 7"/>
<polyline points="865,893 1685.7,1392.5" fill="none" stroke="#8f8f8f" stroke-width="2" stroke-dasharray="9 7"/>
<path d="M1490.9 698.3 L1495.2 693 L1503 689.6 L1511.7 689.6 L1517 694.8 L1516.1 710.4 L1517 719.1 L1528.3 729.6 L1529.1 741.7 L1524.8 767.8 L1529.1 802.6 L1536.1 846.1 L1536.1 867 L1530.9 880 L1524.8 882.6 L1519.6 880.9 L1519.6 875.7 L1523 868.7 L1522.2 851.3 L1517 828.7 L1511.7 816.5 L1512.6 849.6 L1510 867 L1489.1 867.8 L1484.8 865.2 L1485.7 861.7 L1496.1 859.1 L1498.7 853 L1497.8 828.7 L1494.7 811.3 L1494.3 793.9 L1493.5 777.4 L1489.1 781.7 L1490.9 791.3 L1471.7 780 L1467.4 773 L1457 769.6 L1456.1 766.1 L1450 763.5 L1460.4 759.1 L1461.3 753.9 L1464.8 757.4 L1487.4 740 L1489.1 727.8 L1498.7 717.4 L1496.1 710.4 L1491.7 707 Z" fill="#4d84a6" stroke="#4d84a6" stroke-width="2" stroke-linejoin="round"/>
<polygon points="1477.5,761.6 1493.9,751.9 1493.9,767 1489.2,770.3 1483.6,769.7 1482.5,765.8" fill="#ffffff"/>
<polygon points="1487.8,780.4 1493.9,777 1493.9,792 1492,792.1" fill="#ffffff"/>
<polygon points="1216.4,1281.4 993.8,1409.9 925.7,1370.6 1148.3,1242.1" fill="#e3e6e7"/>
<polygon points="1143.1,1237.1 1137.9,1240.1 1137.9,967.3 1143.1,964.3" fill="#90a8cc"/>
<polygon points="1143.1,1243.1 1137.9,1240.1 1137.9,967.3 1143.1,970.3" fill="#7f99c3"/>
<polygon points="1205.1,1253.3 985.1,1380.3 985.1,1374.9 1205.1,1247.9" fill="#8dc3cc"/>
<polygon points="985.1,1380.3 923.1,1344.5 923.1,1339.1 985.1,1374.9" fill="#9bcdd3"/>
<polygon points="1205.1,1247.9 985.1,1374.9 923.1,1339.1 1143.1,1212.1" fill="#ece3d9"/>
<polygon points="1186.9,1256.4 1129.8,1289.4 1087.3,1264.9 1144.5,1231.9" fill="#ddd3c9"/>
<polygon points="1136.3,1285.7 1079.1,1318.7 1036.7,1294.2 1093.8,1261.2" fill="#ddd3c9"/>
<polygon points="1085.6,1314.9 1028.4,1347.9 986,1323.4 1043.2,1290.4" fill="#ddd3c9"/>
<polygon points="1192.1,1247.4 1143.6,1275.4 1143.6,1212.4 1192.1,1184.4" fill="#d9ae78"/>
<polygon points="1143.6,1275.4 1097.7,1248.9 1097.7,1185.9 1143.6,1212.4" fill="#c18f60"/>
<polygon points="1192.1,1184.4 1143.6,1212.4 1097.7,1185.9 1146.2,1157.9" fill="#f3cf9b"/>
<polygon points="1192.1,1191.4 1143.6,1219.4 1143.6,1212.4 1192.1,1184.4" fill="#e2b882"/>
<polygon points="1143.6,1219.4 1097.7,1192.9 1097.7,1185.9 1143.6,1212.4" fill="#c99666"/>
<polygon points="1173.1,1173.4 1124.6,1201.4 1116.8,1196.9 1165.3,1168.9" fill="#d3ba9b"/>
<polygon points="1124.6,1264.4 1116.8,1259.9 1116.8,1196.9 1124.6,1201.4" fill="#a58767"/>
<polygon points="1187.3,1220.2 1164.4,1233.4 1164.4,1209.9 1187.3,1196.7" fill="#ede7e4"/>
<polygon points="1185.2,1204.4 1166.6,1215.2 1166.6,1211.7 1185.2,1200.9" fill="#553426"/>
<polyline points="1185.2,1207.4 1166.6,1218.2" fill="none" stroke="#8d817c" stroke-width="0.7"/>
<polyline points="1185.2,1210.3 1166.6,1221.1" fill="none" stroke="#8d817c" stroke-width="0.7"/>
<polyline points="1185.2,1213.2 1166.6,1224" fill="none" stroke="#8d817c" stroke-width="0.7"/>
<polyline points="1185.2,1216.1 1166.6,1226.9" fill="none" stroke="#8d817c" stroke-width="0.7"/>
<polyline points="1185.2,1219 1166.6,1229.8" fill="none" stroke="#8d817c" stroke-width="0.7"/>
<polygon points="1141.4,1276.7 1093,1304.7 1093,1241.7 1141.4,1213.7" fill="#d9ae78"/>
<polygon points="1093,1304.7 1047.1,1278.2 1047.1,1215.2 1093,1241.7" fill="#c18f60"/>
<polygon points="1141.4,1213.7 1093,1241.7 1047.1,1215.2 1095.6,1187.2" fill="#f3cf9b"/>
<polygon points="1141.4,1220.7 1093,1248.7 1093,1241.7 1141.4,1213.7" fill="#e2b882"/>
<polygon points="1093,1248.7 1047.1,1222.2 1047.1,1215.2 1093,1241.7" fill="#c99666"/>
<polygon points="1122.4,1202.7 1073.9,1230.7 1066.1,1226.2 1114.6,1198.2" fill="#d3ba9b"/>
<polygon points="1073.9,1293.7 1066.1,1289.2 1066.1,1226.2 1073.9,1230.7" fill="#a58767"/>
<polygon points="1136.7,1249.4 1113.7,1262.7 1113.7,1239.2 1136.7,1225.9" fill="#ede7e4"/>
<polygon points="1134.5,1233.7 1115.9,1244.4 1115.9,1240.9 1134.5,1230.2" fill="#553426"/>
<polyline points="1134.5,1236.7 1115.9,1247.4" fill="none" stroke="#8d817c" stroke-width="0.7"/>
<polyline points="1134.5,1239.6 1115.9,1250.3" fill="none" stroke="#8d817c" stroke-width="0.7"/>
<polyline points="1134.5,1242.5 1115.9,1253.2" fill="none" stroke="#8d817c" stroke-width="0.7"/>
<polyline points="1134.5,1245.4 1115.9,1256.1" fill="none" stroke="#8d817c" stroke-width="0.7"/>
<polyline points="1134.5,1248.2 1115.9,1259" fill="none" stroke="#8d817c" stroke-width="0.7"/>
<polygon points="1090.8,1305.9 1042.3,1333.9 1042.3,1270.9 1090.8,1242.9" fill="#d9ae78"/>
<polygon points="1042.3,1333.9 996.4,1307.4 996.4,1244.4 1042.3,1270.9" fill="#c18f60"/>
<polygon points="1090.8,1242.9 1042.3,1270.9 996.4,1244.4 1044.9,1216.4" fill="#f3cf9b"/>
<polygon points="1090.8,1249.9 1042.3,1277.9 1042.3,1270.9 1090.8,1242.9" fill="#e2b882"/>
<polygon points="1042.3,1277.9 996.4,1251.4 996.4,1244.4 1042.3,1270.9" fill="#c99666"/>
<polygon points="1071.7,1231.9 1023.2,1259.9 1015.4,1255.4 1063.9,1227.4" fill="#d3ba9b"/>
<polygon points="1023.2,1322.9 1015.4,1318.4 1015.4,1255.4 1023.2,1259.9" fill="#a58767"/>
<polygon points="1086,1278.7 1063.1,1291.9 1063.1,1268.4 1086,1255.2" fill="#ede7e4"/>
<polygon points="1083.9,1262.9 1065.2,1273.7 1065.2,1270.2 1083.9,1259.4" fill="#553426"/>
<polyline points="1083.9,1265.9 1065.2,1276.7" fill="none" stroke="#8d817c" stroke-width="0.7"/>
<polyline points="1083.9,1268.8 1065.2,1279.6" fill="none" stroke="#8d817c" stroke-width="0.7"/>
<polyline points="1083.9,1271.7 1065.2,1282.5" fill="none" stroke="#8d817c" stroke-width="0.7"/>
<polyline points="1083.9,1274.6 1065.2,1285.4" fill="none" stroke="#8d817c" stroke-width="0.7"/>
<polyline points="1083.9,1277.5 1065.2,1288.2" fill="none" stroke="#8d817c" stroke-width="0.7"/>
<polygon points="1205.1,1170.7 985.1,1297.7 985.1,1292.3 1205.1,1165.3" fill="#8dc3cc"/>
<polygon points="985.1,1297.7 923.1,1261.9 923.1,1256.5 985.1,1292.3" fill="#9bcdd3"/>
<polygon points="1205.1,1165.3 985.1,1292.3 923.1,1256.5 1143.1,1129.5" fill="#ece3d9"/>
<polygon points="1184.3,1174.3 1127.2,1207.3 1084.7,1182.8 1141.9,1149.8" fill="#ddd3c9"/>
<polygon points="1189.5,1165.3 1141,1193.3 1141,1130.3 1189.5,1102.3" fill="#d9ae78"/>
<polygon points="1141,1193.3 1095.1,1166.8 1095.1,1103.8 1141,1130.3" fill="#c18f60"/>
<polygon points="1189.5,1102.3 1141,1130.3 1095.1,1103.8 1143.6,1075.8" fill="#f3cf9b"/>
<polygon points="1189.5,1109.3 1141,1137.3 1141,1130.3 1189.5,1102.3" fill="#e2b882"/>
<polygon points="1141,1137.3 1095.1,1110.8 1095.1,1103.8 1141,1130.3" fill="#c99666"/>
<polygon points="1170.5,1091.3 1122,1119.3 1114.2,1114.8 1162.7,1086.8" fill="#d3ba9b"/>
<polygon points="1122,1182.3 1114.2,1177.8 1114.2,1114.8 1122,1119.3" fill="#a58767"/>
<polygon points="1184.7,1138.1 1161.8,1151.3 1161.8,1127.8 1184.7,1114.6" fill="#ede7e4"/>
<polygon points="1182.6,1122.3 1164,1133.1 1164,1129.6 1182.6,1118.8" fill="#553426"/>
<polyline points="1182.6,1125.3 1164,1136.1" fill="none" stroke="#8d817c" stroke-width="0.7"/>
<polyline points="1182.6,1128.2 1164,1139" fill="none" stroke="#8d817c" stroke-width="0.7"/>
<polyline points="1182.6,1131.1 1164,1141.9" fill="none" stroke="#8d817c" stroke-width="0.7"/>
<polyline points="1182.6,1134 1164,1144.8" fill="none" stroke="#8d817c" stroke-width="0.7"/>
<polyline points="1182.6,1136.9 1164,1147.7" fill="none" stroke="#8d817c" stroke-width="0.7"/>
<polygon points="1205.1,1088.1 985.1,1215.1 985.1,1209.7 1205.1,1082.7" fill="#8dc3cc"/>
<polygon points="985.1,1215.1 923.1,1179.3 923.1,1173.9 985.1,1209.7" fill="#9bcdd3"/>
<polygon points="1205.1,1082.7 985.1,1209.7 923.1,1173.9 1143.1,1046.9" fill="#ece3d9"/>
<polygon points="1036.2,1177.2 984.3,1207.2 941.8,1182.7 993.8,1152.7" fill="#ddd3c9"/>
<polygon points="1041.4,1168.2 992.9,1196.2 992.9,1133.2 1041.4,1105.2" fill="#d9ae78"/>
<polygon points="992.9,1196.2 947,1169.7 947,1106.7 992.9,1133.2" fill="#c18f60"/>
<polygon points="1041.4,1105.2 992.9,1133.2 947,1106.7 995.5,1078.7" fill="#f3cf9b"/>
<polygon points="1041.4,1112.2 992.9,1140.2 992.9,1133.2 1041.4,1105.2" fill="#e2b882"/>
<polygon points="992.9,1140.2 947,1113.7 947,1106.7 992.9,1133.2" fill="#c99666"/>
<polygon points="1022.4,1094.2 973.9,1122.2 966.1,1117.7 1014.6,1089.7" fill="#d3ba9b"/>
<polygon points="973.9,1185.2 966.1,1180.7 966.1,1117.7 973.9,1122.2" fill="#a58767"/>
<polygon points="1036.7,1141 1013.7,1154.2 1013.7,1130.7 1036.7,1117.5" fill="#ede7e4"/>
<polygon points="1034.5,1125.2 1015.9,1136 1015.9,1132.5 1034.5,1121.7" fill="#553426"/>
<polyline points="1034.5,1128.2 1015.9,1139" fill="none" stroke="#8d817c" stroke-width="0.7"/>
<polyline points="1034.5,1131.1 1015.9,1141.9" fill="none" stroke="#8d817c" stroke-width="0.7"/>
<polyline points="1034.5,1134 1015.9,1144.8" fill="none" stroke="#8d817c" stroke-width="0.7"/>
<polyline points="1034.5,1136.9 1015.9,1147.7" fill="none" stroke="#8d817c" stroke-width="0.7"/>
<polyline points="1034.5,1139.8 1015.9,1150.6" fill="none" stroke="#8d817c" stroke-width="0.7"/>
<polygon points="1205.1,1005.5 985.1,1132.5 985.1,1127.1 1205.1,1000.1" fill="#8dc3cc"/>
<polygon points="985.1,1132.5 923.1,1096.7 923.1,1091.3 985.1,1127.1" fill="#9bcdd3"/>
<polygon points="1205.1,1000.1 985.1,1127.1 923.1,1091.3 1143.1,964.3" fill="#ece3d9"/>
<polygon points="1156.6,1028.6 1045.8,1092.6 1003.3,1068.1 1114.2,1004.1" fill="#ddd3c9"/>
<polygon points="1161.8,1019.6 1113.3,1047.6 1113.3,984.6 1161.8,956.6" fill="#d9ae78"/>
<polygon points="1113.3,1047.6 1067.4,1021.1 1067.4,958.1 1113.3,984.6" fill="#c18f60"/>
<polygon points="1161.8,956.6 1113.3,984.6 1067.4,958.1 1115.9,930.1" fill="#f3cf9b"/>
<polygon points="1161.8,963.6 1113.3,991.6 1113.3,984.6 1161.8,956.6" fill="#e2b882"/>
<polygon points="1113.3,991.6 1067.4,965.1 1067.4,958.1 1113.3,984.6" fill="#c99666"/>
<polygon points="1142.7,945.6 1094.3,973.6 1086.5,969.1 1135,941.1" fill="#d3ba9b"/>
<polygon points="1094.3,1036.6 1086.5,1032.1 1086.5,969.1 1094.3,973.6" fill="#a58767"/>
<polygon points="1157,992.4 1134.1,1005.6 1134.1,982.1 1157,968.9" fill="#ede7e4"/>
<polygon points="1154.9,976.6 1136.3,987.4 1136.3,983.9 1154.9,973.1" fill="#553426"/>
<polyline points="1154.9,979.6 1136.3,990.4" fill="none" stroke="#8d817c" stroke-width="0.7"/>
<polyline points="1154.9,982.5 1136.3,993.3" fill="none" stroke="#8d817c" stroke-width="0.7"/>
<polyline points="1154.9,985.4 1136.3,996.2" fill="none" stroke="#8d817c" stroke-width="0.7"/>
<polyline points="1154.9,988.3 1136.3,999.1" fill="none" stroke="#8d817c" stroke-width="0.7"/>
<polyline points="1154.9,991.2 1136.3,1002" fill="none" stroke="#8d817c" stroke-width="0.7"/>
<polygon points="1107.2,1050.1 1058.7,1078.1 1058.7,1015.1 1107.2,987.1" fill="#d9ae78"/>
<polygon points="1058.7,1078.1 1012.8,1051.6 1012.8,988.6 1058.7,1015.1" fill="#c18f60"/>
<polygon points="1107.2,987.1 1058.7,1015.1 1012.8,988.6 1061.3,960.6" fill="#f3cf9b"/>
<polygon points="1107.2,994.1 1058.7,1022.1 1058.7,1015.1 1107.2,987.1" fill="#e2b882"/>
<polygon points="1058.7,1022.1 1012.8,995.6 1012.8,988.6 1058.7,1015.1" fill="#c99666"/>
<polygon points="1088.2,976.1 1039.7,1004.1 1031.9,999.6 1080.4,971.6" fill="#d3ba9b"/>
<polygon points="1039.7,1067.1 1031.9,1062.6 1031.9,999.6 1039.7,1004.1" fill="#a58767"/>
<polygon points="1102.5,1022.9 1079.5,1036.1 1079.5,1012.6 1102.5,999.4" fill="#ede7e4"/>
<polygon points="1100.3,1007.1 1081.7,1017.9 1081.7,1014.4 1100.3,1003.6" fill="#553426"/>
<polyline points="1100.3,1010.1 1081.7,1020.9" fill="none" stroke="#8d817c" stroke-width="0.7"/>
<polyline points="1100.3,1013 1081.7,1023.8" fill="none" stroke="#8d817c" stroke-width="0.7"/>
<polyline points="1100.3,1015.9 1081.7,1026.7" fill="none" stroke="#8d817c" stroke-width="0.7"/>
<polyline points="1100.3,1018.8 1081.7,1029.6" fill="none" stroke="#8d817c" stroke-width="0.7"/>
<polyline points="1100.3,1021.7 1081.7,1032.5" fill="none" stroke="#8d817c" stroke-width="0.7"/>
<polygon points="928.3,1367.1 923.1,1364.1 923.1,1091.3 928.3,1094.3" fill="#7f99c3"/>
<polygon points="1205.1,1272.9 1199.9,1275.9 1199.9,1003.1 1205.1,1000.1" fill="#90a8cc"/>
<polygon points="990.3,1396.9 985.1,1399.9 985.1,1127.1 990.3,1124.1" fill="#90a8cc"/>
<polygon points="985.1,1399.9 979.9,1396.9 979.9,1124.1 985.1,1127.1" fill="#7f99c3"/>
<polygon points="1397.4,1463 1540.5,1387 1540.5,1407.9 1409.3,1482.4 1388.5,1470.5" fill="#e8eaea"/>
<path d="M1342.3 1294.6 Q1340.8 1211.2 1379.5 1167" fill="none" stroke="#d0d0d0" stroke-width="3.6"/>
<path d="M1355.7 1288.7 Q1355.7 1229 1388.5 1178.4" fill="none" stroke="#d8d8d8" stroke-width="3"/>
<polygon points="1355.7,1293.1 1398.9,1270.8 1430.2,1288.7 1430.2,1336.3 1397.4,1318.5" fill="#b8acab"/>
<path d="M1448.1 1230.5 L1492.8 1255.9 L1489.8 1270.8 L1477.9 1318.5 L1448.1 1336.3 L1436.2 1288.7 Z" fill="#b8acab"/>
<path d="M1428.7 1333.4 L1477.9 1308 L1480.9 1318.5 L1436.2 1348.3 Z" fill="#c4b9b8"/>
<ellipse cx="1434.7" cy="1217.7" rx="16.5" ry="15" fill="#6593b3"/>
<path d="M1427.2 1229 L1445.1 1235 L1460 1248.4 L1463.6 1288.7 L1460 1321.4 L1427.2 1336.3 L1412.3 1327.4 L1418.3 1294.6 L1397.4 1288.7 L1397.4 1273.8 L1418.3 1258.8 L1425.7 1246.9 Z" fill="#6593b3"/>
<ellipse cx="1407.8" cy="1310.1" rx="11.5" ry="11" fill="none" stroke="#7a7a7a" stroke-width="2.2"/>
<polyline points="1400.4,1315.5 1415.9,1304.2" fill="none" stroke="#7a7a7a" stroke-width="1.6"/>
<path d="M1397.4 1393 L1397.4 1458.6 L1537.5 1378.1 L1537.5 1285.7 Q1537.5 1278.2 1530.1 1274.3 L1504.7 1258.8 L1504.7 1318.5 L1443.6 1354.2 L1443.6 1390 Z" fill="#7395ba"/>
<path d="M1429.6 1382.6 Q1428.7 1357.2 1451.1 1344.7 L1504.1 1313.1 L1504.1 1333.4 Q1448.1 1363.2 1443.6 1391.5 Z" fill="#a9a9a9"/>
<polygon points="1311,1182.8 1330.3,1194.8 1330.3,1297.6 1311,1285.7" fill="#d4d4d4"/>
<polygon points="1376.5,1220.7 1395.9,1232.6 1395.9,1390 1376.5,1378.1" fill="#d4d4d4"/>
<polygon points="1305,1173.9 1313.3,1170.3 1398,1219.5 1398,1235 1390,1238.6 1305,1187.9" fill="#d8d8d8"/>
<polygon points="1311,1285.7 1412.3,1343.8 1412.3,1391.5 1400.4,1396.6 1311,1345.3" fill="#d4d4d4"/>
<polygon points="1381,1413.9 1388.5,1418.3 1388.5,1463 1381,1458.6" fill="#2c2c2c"/>
<polygon points="1395.9,1400.4 1402.5,1404.3 1402.5,1455 1395.9,1451.4" fill="#2c2c2c"/>
<polygon points="1388.5,1443.1 1399.8,1439.2 1399.8,1458.6 1388.5,1463" fill="#3a3a3a"/>
<path d="M1376.5 1167 L1416.8 1136.6 L1500.8 1184.9 L1460 1211.8 Z" fill="#8ea8ca"/>
<path d="M1460 1211.2 Q1430.2 1258.8 1428.7 1384" fill="none" stroke="#d6d6d6" stroke-width="4"/>
<polyline points="1501.1,1184.9 1501.1,1315.5" fill="none" stroke="#d6d6d6" stroke-width="4"/>
<polygon points="1468.6,1414 1468.3,1409.9 1467.3,1406.4 1465.6,1403.5 1463.3,1401.3 1460.4,1399.9 1457.2,1399.3 1453.5,1399.6 1449.7,1400.7 1445.7,1402.6 1441.7,1405.3 1437.8,1408.6 1434.2,1412.5 1430.9,1416.9 1428.1,1421.6 1425.8,1426.4 1424.1,1431.3 1423.1,1436 1422.7,1440.5 1423.1,1444.6 1424.1,1448.1 1425.8,1451.1 1428.1,1453.3 1430.9,1454.7 1434.2,1455.2 1437.8,1455 1441.7,1453.8 1445.7,1451.9 1449.7,1449.2 1453.5,1445.9 1457.2,1442 1460.4,1437.6 1463.3,1433 1465.6,1428.1 1467.3,1423.2 1468.3,1418.5" fill="#8b8b8b"/>
<polygon points="1537.1,1380.8 1536.9,1377.9 1536.2,1375.4 1535,1373.4 1533.4,1371.9 1531.4,1370.9 1529.1,1370.5 1526.6,1370.7 1523.9,1371.5 1521.1,1372.8 1518.3,1374.7 1515.6,1377 1513.1,1379.7 1510.8,1382.8 1508.8,1386 1507.2,1389.4 1506.1,1392.8 1505.3,1396.1 1505.1,1399.3 1505.3,1402.1 1506.1,1404.6 1507.2,1406.6 1508.8,1408.1 1510.8,1409.1 1513.1,1409.5 1515.6,1409.3 1518.3,1408.6 1521.1,1407.2 1523.9,1405.3 1526.6,1403 1529.1,1400.3 1531.4,1397.2 1533.4,1394 1535,1390.6 1536.2,1387.2 1536.9,1383.9" fill="#8b8b8b"/>
<polygon points="1156,1494.9 1275.2,1559.3 1394.4,1496.1 1394.4,1476.4 1269.2,1437.7" fill="#e6e6e6"/>
<polygon points="1161.9,1467.5 1275.2,1524.1 1275.2,1545.6 1161.9,1487.8" fill="#a8834f"/>
<polygon points="1275.2,1524.1 1391.4,1466 1391.4,1486 1275.2,1545.6" fill="#c4a063"/>
<polygon points="1161.9,1467.5 1275.2,1524.1 1275.2,1530.7 1161.9,1474.1" fill="#d9b678"/>
<polygon points="1275.2,1524.1 1391.4,1466 1391.4,1472.9 1275.2,1530.7" fill="#e0bd7e"/>
<polygon points="1161.9,1480.9 1275.2,1538.4 1275.2,1545.6 1161.9,1487.8" fill="#c09a5c"/>
<polygon points="1275.2,1538.4 1391.4,1479.4 1391.4,1486 1275.2,1545.6" fill="#d2ae6e"/>
<polygon points="1182.8,1484.5 1197.7,1491.9 1197.7,1498.8 1182.8,1491.4" fill="#8e6a3f"/>
<polygon points="1212.6,1499.4 1227.5,1506.9 1227.5,1513.7 1212.6,1506.3" fill="#8e6a3f"/>
<polygon points="1239.4,1512.8 1254.3,1520.3 1254.3,1527.1 1239.4,1519.7" fill="#8e6a3f"/>
<polygon points="1260.3,1523.2 1275.2,1530.7 1275.2,1537.6 1260.3,1530.1" fill="#8e6a3f"/>
<polygon points="1328.8,1503.3 1352.7,1491.4 1352.7,1498.2 1328.8,1510.7" fill="#a88650"/>
<polygon points="1161.9,1467.5 1281.2,1407.9 1391.4,1466 1275.2,1524.1" fill="#e3c084"/>
<polygon points="1178.3,1339.3 1275.2,1394.5 1275.2,1521.2 1178.3,1467.5" fill="#dfc0a2"/>
<polygon points="1178.3,1339.3 1275.2,1394.5 1275.2,1412.4 1178.3,1355.7" fill="#c99a6d"/>
<polygon points="1197.7,1350.4 1204.8,1354.5 1204.8,1481.2 1197.7,1478" fill="#bfa58d" opacity="0.8"/>
<polygon points="1248.4,1379.3 1255.5,1383.4 1255.5,1510.1 1248.4,1506.8" fill="#bfa58d" opacity="0.8"/>
<polyline points="1226.9,1367.1 1226.9,1494.9" fill="none" stroke="#ecd9c4" stroke-width="1.2"/>
<polygon points="1275.2,1394.5 1379.5,1339.3 1379.5,1465.1 1275.2,1521.2" fill="#efd9bd"/>
<polygon points="1275.2,1394.5 1379.5,1339.3 1379.5,1357.2 1275.2,1412.4" fill="#dcae78"/>
<polyline points="1328.3,1366.8 1328.3,1492.8" fill="none" stroke="#e2c49c" stroke-width="1.2"/>
<polygon points="1275.2,1497.3 1379.5,1442.2 1379.5,1465.1 1275.2,1521.2" fill="#e5b877" opacity="0.55"/>
<polygon points="1352.7,1352.7 1375.1,1341.4 1375.1,1363.2 1352.7,1375.1" fill="#f3efec"/>
<polygon points="1354.5,1354.5 1373.3,1345 1373.3,1348 1354.5,1357.5" fill="#5a3a2c"/>
<polygon points="1296.1,1382.6 1318.4,1371.2 1318.4,1393 1296.1,1404.9" fill="#f3efec"/>
<polygon points="1297.8,1384.3 1316.6,1374.8 1316.6,1377.8 1297.8,1387.3" fill="#5a3a2c"/>
<polygon points="1352.7,1422.8 1375.1,1411.5 1375.1,1430.2 1352.7,1441.6" fill="#f6f3f0"/>
<polygon points="1296.1,1451.1 1318.4,1439.8 1318.4,1458.6 1296.1,1469.9" fill="#f6f3f0"/>
<polygon points="1282.6,1279.1 1379.5,1339.3 1275.2,1394.5 1178.3,1339.3" fill="#f3cf9b"/>
<polygon points="1305,1293.1 1313.3,1297.9 1208.1,1357.2 1199.8,1352.4" fill="#d8bf9f" opacity="0.85"/>
<polygon points="1355.7,1324.4 1364,1329.2 1258.8,1385.5 1250.5,1380.5" fill="#d8bf9f" opacity="0.85"/>
<polyline points="1230.5,1309.5 1328.8,1366.8" fill="none" stroke="#c9a06e" stroke-width="1.6"/>
<polyline points="1331.8,1309.5 1226.9,1367.1" fill="none" stroke="#c9a06e" stroke-width="1.6"/>
<path d="M1418.1 1109.1 A20.9 20.9 0 1 1 1451.3 1109.1 L1434.7 1130.7 Z M1423.1 1096.4 a11.6 11.6 0 1 0 23.2 0 a11.6 11.6 0 1 0 -23.2 0 Z" fill="#ffc000" fill-rule="evenodd"/>
<polygon points="1412.3,1098.8 1416.1,1096.8 1420.1,1095 1424.1,1093.3 1428.2,1091.8 1432.3,1090.4 1436.5,1089.2 1440.8,1088.2 1445,1087.4 1449.3,1086.7 1453.7,1086.2 1458,1085.9 1462.4,1085.7 1466.7,1085.7 1471.1,1085.9 1475.4,1086.3 1479.7,1086.8 1484,1087.6 1488.3,1088.5 1492.5,1089.5 1496.7,1090.7 1500.8,1092.1 1504.9,1093.7 1508.9,1095.4 1512.8,1097.3 1516.7,1099.3 1520.4,1101.5 1524.1,1103.9 1527.7,1106.4 1531.1,1109 1534.5,1111.8 1537.8,1114.7 1540.9,1117.7 1543.9,1120.8 1546.8,1124.1 1549.5,1127.5 1552.1,1131 1554.6,1134.6 1556.9,1138.3 1559.1,1142 1561.1,1145.9 1526.3,1163.2 1525,1160.7 1523.6,1158.3 1522.1,1155.9 1520.5,1153.6 1518.8,1151.4 1517.1,1149.2 1515.2,1147.1 1513.3,1145.1 1511.3,1143.2 1509.2,1141.3 1507,1139.5 1504.8,1137.9 1502.5,1136.3 1500.2,1134.8 1497.8,1133.4 1495.3,1132 1492.8,1130.8 1490.2,1129.7 1487.6,1128.7 1485,1127.8 1482.3,1127 1479.6,1126.4 1476.8,1125.8 1474.1,1125.3 1471.3,1125 1468.5,1124.7 1465.7,1124.6 1462.9,1124.6 1460.2,1124.7 1457.4,1124.9 1454.6,1125.2 1451.8,1125.7 1449.1,1126.2 1446.4,1126.9 1443.7,1127.6 1441,1128.5 1438.4,1129.5 1435.8,1130.6 1433.3,1131.7 1430.8,1133" fill="#efe87d" opacity="0.92"/>
<polygon points="1394.5,1061.6 1399.9,1059.1 1405.4,1056.8 1411,1054.7 1416.6,1052.8 1422.3,1051.2 1428.1,1049.7 1434,1048.5 1439.8,1047.5 1445.8,1046.8 1451.7,1046.3 1457.6,1046 1463.6,1045.9 1469.6,1046.1 1475.5,1046.5 1481.4,1047.1 1487.3,1048 1493.2,1049.1 1499,1050.4 1504.7,1052 1510.4,1053.7 1516,1055.7 1521.6,1057.9 1527,1060.3 1532.4,1063 1537.6,1065.8 1542.7,1068.9 1547.7,1072.1 1552.6,1075.5 1557.3,1079.1 1561.9,1082.9 1566.4,1086.9 1570.7,1091 1574.8,1095.4 1578.7,1099.8 1582.5,1104.4 1586.1,1109.2 1589.5,1114.1 1592.7,1119.1 1595.7,1124.2 1598.5,1129.5 1587.7,1135 1585.1,1130.1 1582.4,1125.4 1579.4,1120.8 1576.3,1116.3 1573,1111.9 1569.5,1107.7 1565.9,1103.5 1562.1,1099.6 1558.1,1095.8 1554,1092.1 1549.8,1088.6 1545.5,1085.3 1541,1082.1 1536.4,1079.1 1531.6,1076.3 1526.8,1073.7 1521.9,1071.3 1516.9,1069.1 1511.8,1067 1506.6,1065.2 1501.4,1063.6 1496.1,1062.2 1490.7,1060.9 1485.3,1059.9 1479.9,1059.1 1474.4,1058.5 1469,1058.2 1463.5,1058 1458,1058.1 1452.5,1058.3 1447,1058.8 1441.6,1059.5 1436.2,1060.4 1430.8,1061.5 1425.5,1062.8 1420.2,1064.4 1415,1066.1 1409.9,1068 1404.8,1070.2 1399.8,1072.5" fill="#efe87d" opacity="0.92"/>
<polygon points="1382.7,1037.2 1389.1,1033.8 1395.6,1030.7 1402.2,1027.8 1408.9,1025.2 1415.7,1022.9 1422.6,1020.9 1429.6,1019.2 1436.6,1017.8 1443.7,1016.6 1450.8,1015.7 1458,1015.2 1465.2,1014.9 1472.4,1015 1479.6,1015.3 1486.7,1015.9 1493.9,1016.8 1501,1018 1508,1019.6 1514.9,1021.3 1521.8,1023.4 1528.6,1025.8 1535.3,1028.4 1541.9,1031.3 1548.3,1034.5 1554.6,1038 1560.8,1041.7 1566.8,1045.6 1572.6,1049.8 1578.3,1054.3 1583.8,1058.9 1589,1063.8 1594.1,1068.9 1599,1074.2 1603.6,1079.7 1608,1085.4 1612.1,1091.3 1616.1,1097.3 1619.7,1103.5 1623.1,1109.8 1626.3,1116.3 1621.7,1118.4 1618.7,1112.1 1615.4,1106 1611.8,1100 1608,1094.1 1604,1088.4 1599.7,1082.9 1595.2,1077.5 1590.5,1072.4 1585.6,1067.4 1580.4,1062.7 1575.1,1058.1 1569.6,1053.8 1564,1049.7 1558.1,1045.9 1552.2,1042.3 1546,1039 1539.8,1035.9 1533.4,1033 1526.9,1030.5 1520.3,1028.2 1513.6,1026.2 1506.8,1024.4 1500,1023 1493.1,1021.8 1486.2,1020.9 1479.2,1020.3 1472.3,1020 1465.3,1019.9 1458.3,1020.2 1451.3,1020.7 1444.4,1021.6 1437.5,1022.7 1430.7,1024.1 1423.9,1025.7 1417.2,1027.7 1410.6,1029.9 1404.1,1032.4 1397.6,1035.2 1391.4,1038.3 1385.2,1041.5" fill="#efe87d" opacity="0.92"/>
<polygon points="1836.6,1013.7 1851.1,1001 1872.2,1011.9 1857.6,1024.2" fill="#e6e6e6"/>
<polygon points="1836.6,1013.7 1857.6,1024.2 1857.6,1031.2 1836.6,1020.2" fill="#bcbcbc"/>
<polygon points="1857.6,1024.2 1872.2,1011.9 1872.2,1018.7 1857.6,1031.2" fill="#cfcfcf"/>
<path d="M1838.4 993.2 q0 -5 7 -5.5 q8 0 8.5 4 l0 9 l-9 7 l-6.5 -3 Z" fill="#d8242b"/>
<path d="M1838.4 994.2 l6.5 3 l0 9 l-6.5 -3 Z" fill="#b51d22"/>
<polyline points="1838.4,984.2 1834.9,975.2" fill="none" stroke="#ee1c24" stroke-width="1.6"/>
<polyline points="1845.4,984.2 1844.9,975.2" fill="none" stroke="#ee1c24" stroke-width="1.6"/>
<polyline points="1852.4,984.2 1855.9,975.2" fill="none" stroke="#ee1c24" stroke-width="1.6"/>
<polygon points="1475.6,1164.5 1461.1,1151.8 1440,1162.7 1454.6,1175" fill="#e6e6e6"/>
<polygon points="1475.6,1164.5 1454.6,1175 1454.6,1182 1475.6,1171" fill="#bcbcbc"/>
<polygon points="1454.6,1175 1440,1162.7 1440,1169.5 1454.6,1182" fill="#cfcfcf"/>
<path d="M1431.7 1147.6 q0 -5 7 -5.5 q8 0 8.5 4 l0 9 l-9 7 l-6.5 -3 Z" fill="#d8242b"/>
<path d="M1431.7 1148.6 l6.5 3 l0 9 l-6.5 -3 Z" fill="#b51d22"/>
<polyline points="1431.7,1138.6 1428.2,1129.6" fill="none" stroke="#ee1c24" stroke-width="1.6"/>
<polyline points="1438.7,1138.6 1438.2,1129.6" fill="none" stroke="#ee1c24" stroke-width="1.6"/>
<polyline points="1445.7,1138.6 1449.2,1129.6" fill="none" stroke="#ee1c24" stroke-width="1.6"/>
<path d="M1826.8 949.3 A21.6 21.6 0 1 1 1858.6 949.3 L1842.7 966.6 Z M1830.7 934.7 a12 12 0 1 0 24 0 a12 12 0 1 0 -24 0 Z" fill="#ffc000" fill-rule="evenodd"/>
<path d="M1488.6 651.6 A21.2 21.2 0 1 1 1521.6 651.6 L1505.1 672.2 Z M1493.3 638.3 a11.8 11.8 0 1 0 23.5 0 a11.8 11.8 0 1 0 -23.5 0 Z" fill="#ffc000" fill-rule="evenodd"/>
<rect x="1747.5" y="55.3" width="595.5" height="508.6" rx="71" fill="#e6e7e9" stroke="#1461aa" stroke-width="2.2"/>
<rect x="47" y="1123.2" width="549.2" height="519.1" rx="71" fill="#e6e7e9" stroke="#1461aa" stroke-width="2.2"/>
<defs><filter id="blur1" x="-30%" y="-30%" width="160%" height="160%"><feGaussianBlur stdDeviation="7.5"/></filter><linearGradient id="meshg" x1="0" y1="0" x2="1" y2="0"><stop offset="0" stop-color="#a9acb1"/><stop offset="0.45" stop-color="#7e8187"/><stop offset="1" stop-color="#4d5056"/></linearGradient><pattern id="mesh" width="3" height="3" patternUnits="userSpaceOnUse"><rect width="3" height="3" fill="none"/><rect width="1.2" height="1.2" fill="#ffffff" opacity="0.16"/><rect x="1.5" y="1.5" width="1.2" height="1.2" fill="#000000" opacity="0.12"/></pattern><linearGradient id="devf" x1="0" y1="0" x2="0" y2="1"><stop offset="0" stop-color="#f1f0ef"/><stop offset="1" stop-color="#e7e6e5"/></linearGradient></defs>
<g filter="url(#blur1)" opacity="0.9" transform="translate(15,12)">
<path d="M2029.1 210.8 C2052.7 180.1 2104.7 171.1 2142.4 168.3 C2180.2 165.6 2229.4 181.3 2255.7 194.3 C2282.1 207.3 2293.1 215.9 2300.6 246.2 C2308.1 276.5 2303.5 346.5 2300.6 376 C2297.6 405.5 2320.3 405.5 2282.9 423.2 C2245.5 441 2117.5 479.2 2076.3 482.7 C2035.2 486.3 2048.8 466.2 2036.2 444.5 C2023.6 422.8 2002 391.4 2000.8 352.4 C1999.6 313.5 2005.5 241.5 2029.1 210.8 Z" fill="#0c0d10"/>
</g>
<path d="M1968.9 281.6 C1968.9 263.1 1974.3 254.9 1984.3 241.5 C1994.3 228.1 2012.6 212.4 2029.1 201.4 C2045.7 190.4 2064.5 182 2083.4 175.4 C2102.3 168.8 2122.8 163.3 2142.4 161.7 C2162.1 160.1 2182.6 160.5 2201.4 166 C2220.3 171.4 2240.8 183.7 2255.7 194.3 C2270.7 204.9 2283.1 217.5 2291.1 229.7 C2299.2 241.9 2302.9 252.5 2304.1 267.5 C2305.3 282.4 2302.4 305.2 2298.2 319.4 C2294.1 333.6 2305.3 343 2279.3 352.4 C2253.4 361.9 2182.2 366.2 2142.4 376 C2102.7 385.9 2063.4 407.5 2040.9 411.4 C2018.5 415.4 2017.3 409.5 2007.9 399.6 C1998.5 389.8 1990.8 372.1 1984.3 352.4 C1977.8 332.8 1968.9 300.1 1968.9 281.6 Z" fill="#eef0f3"/>
<path d="M1979.6 286.3 C1979.4 269.8 1985.5 261.2 1994.9 248.6 C2004.4 236 2020.7 221.2 2036.2 210.8 C2051.8 200.4 2070.4 192.1 2088.1 186 C2105.8 179.9 2124.3 175.6 2142.4 174.2 C2160.5 172.8 2179.4 172.8 2196.7 177.8 C2214 182.7 2232.5 193.9 2246.3 203.7 C2260.1 213.6 2271.9 225.4 2279.3 236.8 C2286.8 248.2 2290.4 258.4 2291.1 272.2 C2291.9 286 2289.2 306.8 2284.1 319.4 C2278.9 332 2284.1 339.1 2260.5 347.7 C2236.8 356.4 2177.8 362.7 2142.4 371.3 C2107 380 2068.9 396.5 2048 399.6 C2027.2 402.8 2026 398.9 2017.3 390.2 C2008.7 381.5 2002.4 365 1996.1 347.7 C1989.8 330.4 1979.8 302.9 1979.6 286.3 Z" fill="url(#meshg)"/>
<path d="M1979.6 286.3 C1979.4 269.8 1985.5 261.2 1994.9 248.6 C2004.4 236 2020.7 221.2 2036.2 210.8 C2051.8 200.4 2070.4 192.1 2088.1 186 C2105.8 179.9 2124.3 175.6 2142.4 174.2 C2160.5 172.8 2179.4 172.8 2196.7 177.8 C2214 182.7 2232.5 193.9 2246.3 203.7 C2260.1 213.6 2271.9 225.4 2279.3 236.8 C2286.8 248.2 2290.4 258.4 2291.1 272.2 C2291.9 286 2289.2 306.8 2284.1 319.4 C2278.9 332 2284.1 339.1 2260.5 347.7 C2236.8 356.4 2177.8 362.7 2142.4 371.3 C2107 380 2068.9 396.5 2048 399.6 C2027.2 402.8 2026 398.9 2017.3 390.2 C2008.7 381.5 2002.4 365 1996.1 347.7 C1989.8 330.4 1979.8 302.9 1979.6 286.3 Z" fill="url(#mesh)"/>
<path d="M2040.9 281.6 C2042.5 275.3 2050.8 267.5 2062.2 262.7 C2073.6 258 2092.1 254.9 2109.4 253.3 C2126.7 251.7 2149.5 251.7 2166 253.3 C2182.6 254.9 2198.7 258 2208.5 262.7 C2218.4 267.5 2228.2 275.3 2225 281.6 C2221.9 287.9 2211.3 295.8 2189.6 300.5 C2168 305.2 2118 309.9 2095.2 309.9 C2072.4 309.9 2061.8 305.2 2052.7 300.5 C2043.7 295.8 2039.4 287.9 2040.9 281.6 Z" fill="#7a7d84"/>
<path d="M2057.5 284 C2057.5 280 2079.1 274.7 2095.2 272.2 C2111.4 269.6 2136.5 267.9 2154.2 268.6 C2171.9 269.4 2199.5 273.2 2201.4 276.9 C2203.4 280.6 2183.7 287.9 2166 291.1 C2148.3 294.2 2113.3 297 2095.2 295.8 C2077.1 294.6 2057.5 287.9 2057.5 284 Z" fill="#8c9097"/>
<path d="M1970.1 291.1 L1989 309.9 L2007.9 331.2 L2024.4 353.6 L2040.9 376 L2041.4 413.8 L2029.1 410.3 L2007.9 398.5 L1991.4 378.4 L1980.7 354.8 L1972.5 319.4 Z" fill="#bcbfc4" stroke="#bcbfc4" stroke-width="3" stroke-linejoin="round"/>
<path d="M1970.1 291.1 L1989 309.9 L2007.9 331.2 L2024.4 353.6 L2040.9 376 L2041.4 413.8 L2029.1 410.3 L2007.9 398.5 L1991.4 378.4 L1980.7 354.8 L1972.5 319.4 Z" fill="url(#mesh)"/>
<path d="M1971.3 285.9 L1990.2 305.2 L2009.1 326.5 L2023.2 347.7" fill="none" stroke="#f1f2f4" stroke-width="5.5" stroke-linecap="round" stroke-linejoin="round"/>
<path d="M2269.9 250.9 C2273.4 241.5 2292.8 263.1 2298.2 272.2 C2303.6 281.2 2302.9 287.9 2302.5 305.2 C2302 322.5 2298.8 358.3 2295.4 376 C2291.9 393.7 2284.8 419.3 2281.7 411.4 C2278.6 403.6 2278.9 355.6 2277 328.8 C2275 302.1 2266.4 260.4 2269.9 250.9 Z" fill="#8b8e94"/>
<path d="M2269.9 250.9 C2273.4 241.5 2292.8 263.1 2298.2 272.2 C2303.6 281.2 2302.9 287.9 2302.5 305.2 C2302 322.5 2298.8 358.3 2295.4 376 C2291.9 393.7 2284.8 419.3 2281.7 411.4 C2278.6 403.6 2278.9 355.6 2277 328.8 C2275 302.1 2266.4 260.4 2269.9 250.9 Z" fill="url(#mesh)"/>
<path d="M2272.3 247.4 C2276.6 250.7 2292.9 258.2 2298.2 267.5 C2303.5 276.7 2304 285.2 2303.9 302.9 C2303.7 320.6 2298.4 361.9 2297.3 373.7" fill="none" stroke="#eceef1" stroke-width="2.2" stroke-linecap="round"/>
<path d="M1955 284.9 L1967.3 281.6 L1985.7 367.1 L1975.3 372.3 Z" fill="#c9c8c6" stroke="#c9c8c6" stroke-width="6" stroke-linejoin="round"/>
<path d="M1953.6 284.5 L1965.9 281.2 L1984.3 367.1 L1973.9 372.3 Z" fill="#f0efed" stroke="#f0efed" stroke-width="5" stroke-linejoin="round"/>
<path d="M1999.9 330.2 L2012.6 326.9 L2018.8 333.1 L2044.2 377 L2049.9 432.2 L2036.7 438.4 L2009.8 376 Z" fill="#d4d3d1" stroke="#d4d3d1" stroke-width="5" stroke-linejoin="round"/>
<path d="M1998.5 330 L2011.2 326.5 L2017.3 332.6 L2042.8 376.5 L2048.5 432.2 L2035.3 438.4 L2008.4 376 Z" fill="#f2f1ef" stroke="#f2f1ef" stroke-width="4" stroke-linejoin="round"/>
<path d="M2027.2 359.5 L2043.8 367.1 L2269.9 327.7 L2293.5 313.5 L2293.5 376 L2288.3 403.2 L2278.2 421.4 L2077.5 479.9 L2060.3 477.5 L2039 443.3 L2042.8 376 Z" fill="url(#devf)" stroke="url(#devf)" stroke-width="5.0" stroke-linejoin="round"/>
<path d="M2027.2 359.5 L2043.8 367.1 L2269.9 327.7 L2293.5 313.5 L2293.5 376 L2288.3 403.2 L2278.2 421.4 L2077.5 479.9 L2060.3 477.5 L2039 443.3 L2042.8 376 Z" fill="#e9e8e7" stroke="#e9e8e7" stroke-width="5" stroke-linejoin="round"/>
<path d="M2027.2 359.5 L2043.8 367.1 L2269.9 327.7 L2293.5 313.5 L2293.5 376 L2288.3 403.2 L2278.2 421.4 L2077.5 479.9 L2060.3 477.5 L2039 443.3 L2042.8 376 Z" fill="url(#devf)"/>
<path d="M2038.1 446.8 L2061 479.4 L2078.7 481.3 L2278.2 423.2 L2292.3 383.1" fill="none" stroke="#f7f7f6" stroke-width="5" stroke-linecap="round" stroke-linejoin="round"/>
<path d="M2044.5 440.9 L2068.1 469.3 L2272.3 411.4 L2284.1 378.4" fill="none" stroke="#d9d8d7" stroke-width="0.8"/>
<path d="M2020.9 331.7 L2035 307.1 L2243.9 244.3 L2269.9 248.1 L2296.3 293 L2293.5 309.5 L2269.4 325.3 L2044.2 364.7 L2026.8 356.7 Z" fill="#f6f6f5" stroke="#f6f6f5" stroke-width="7.0" stroke-linejoin="round"/>
<path d="M2040.9 322.9 L2254.6 259.9 L2279.3 281.6" fill="none" stroke="#e3e2e1" stroke-width="0.9"/>
<path d="M2095.2 378.4 L2099.9 370.1 L2125.9 365.4 L2130.6 372.5 L2133 418.5 L2099.9 426.8 L2096.4 423.2 L2095.2 378.4" fill="none" stroke="#d6d5d4" stroke-width="0.9"/>
<path d="M2133 366.6 L2137.7 359.5 L2248.7 337.1 L2254.6 343 L2255.7 390.2 L2135.4 415 L2133 366.6" fill="none" stroke="#d6d5d4" stroke-width="0.9"/>
<path d="M2137.7 422.1 L2255.7 393.7 L2256.4 422.1 L2143.6 455.1 L2137.7 449.2 L2137.7 422.1" fill="none" stroke="#d6d5d4" stroke-width="0.9"/>
<polyline points="2099.9,426.8 2137.7,422.1" fill="none" stroke="#d6d5d4" stroke-width="0.9"/>
<circle cx="2125.9" cy="428" r="0.9" fill="#777"/>
<circle cx="2129.5" cy="456.3" r="0.9" fill="#777"/>
<rect x="2146.7" y="417.1" width="35" height="25" rx="4.5" fill="#d6354b" transform="rotate(-11 2164.2 429.6)"/>
<rect x="2146.7" y="417.1" width="35" height="25" rx="4.5" fill="none" stroke="#b62a3f" stroke-width="1" transform="rotate(-11 2164.2 429.6)"/>
<path d="M481.8 1351.3 C483.2 1344.3 487.4 1342 493 1331.2 C498.6 1320.4 506.9 1304.6 515.3 1286.5 C523.7 1268.3 534.3 1244.2 543.3 1222.2 C552.3 1200.2 564 1166.1 569.3 1154.6 C574.5 1143 572.6 1152.7 574.6 1152.9 C576.6 1153.1 580.1 1154.6 581.3 1155.7 C582.4 1156.8 584.6 1148.3 581.6 1159.3 C578.5 1170.4 569.7 1202 562.8 1222.2 C556 1242.5 547.7 1261.8 540.5 1280.9 C533.3 1300 526.3 1320.9 519.5 1336.8 C512.8 1352.6 504.8 1369.1 500 1375.9 C495.1 1382.7 492.7 1378 490.2 1377.6 C487.6 1377.1 486 1377.5 484.6 1373.1 C483.2 1368.7 480.4 1358.3 481.8 1351.3 Z" fill="#17181a"/>
<polygon points="438.5,1351.3 483.2,1353.6 484.6,1373.7 439.9,1372.6" fill="#222326"/>
<polyline points="444.1,1351.9 444.9,1373.1" fill="none" stroke="#3a3b3f" stroke-width="1"/>
<polyline points="452.5,1351.9 453.3,1373.1" fill="none" stroke="#3a3b3f" stroke-width="1"/>
<polyline points="460.8,1351.9 461.7,1373.1" fill="none" stroke="#3a3b3f" stroke-width="1"/>
<polyline points="469.2,1351.9 470.1,1373.1" fill="none" stroke="#3a3b3f" stroke-width="1"/>
<path d="M245.7 1549.2 C252 1547.1 278.4 1547.1 284.8 1549.2 C291.2 1551.3 285.3 1558.6 284 1561.7 C282.6 1564.9 281.2 1567.2 276.4 1568.2 C271.7 1569.1 260.3 1568.7 255.4 1567.6 C250.6 1566.5 248.7 1564.8 247.1 1561.7 C245.4 1558.7 239.4 1551.3 245.7 1549.2 Z" fill="#1a1a1c"/>
<path d="M366.7 1549.2 C371.6 1546.9 392.4 1547.1 397.4 1549.2 C402.4 1551.3 398.1 1558.4 396.8 1561.7 C395.5 1565.1 393.1 1568 389.6 1569.3 C386 1570.5 379.2 1570.4 375.6 1569.3 C372 1568.2 369.3 1565.9 367.8 1562.6 C366.3 1559.2 361.7 1551.4 366.7 1549.2 Z" fill="#1a1a1c"/>
<path d="M213 1316.7 L432.1 1314.4 L437.1 1543 L204 1545.8 Z" fill="#1b1c1f" stroke="#1b1c1f" stroke-width="14" stroke-linejoin="round"/>
<path d="M226.9 1331.2 L421.4 1330.1 L425.3 1522.3 L222.5 1524 Z" fill="#0e0e10" stroke="#0e0e10" stroke-width="12" stroke-linejoin="round"/>
<path d="M226.9 1331.2 L421.4 1330.1 L425.3 1522.3 L222.5 1524 Z" fill="#242528" stroke="#242528" stroke-width="9" stroke-linejoin="round"/>
<circle cx="215.8" cy="1316.7" r="4" fill="#2e2f33" stroke="#0c0c0d" stroke-width="1"/>
<circle cx="429.5" cy="1316.7" r="4" fill="#2e2f33" stroke="#0c0c0d" stroke-width="1"/>
<circle cx="205.7" cy="1543" r="4" fill="#2e2f33" stroke="#0c0c0d" stroke-width="1"/>
<circle cx="434.8" cy="1539.4" r="4" fill="#2e2f33" stroke="#0c0c0d" stroke-width="1"/>
<path d="M235.3 1339 L406.9 1337.9 L409.7 1513.4 L230.3 1515.9 Z" fill="#d9dadd" stroke="#d9dadd" stroke-width="8" stroke-linejoin="round"/>
<polygon points="242,1342.9 397.4,1342.4 400.2,1508.6 237.3,1511.4" fill="none" stroke="#2b50b4" stroke-width="1.6"/>
<circle cx="274.5" cy="1367.5" r="13.2" fill="none" stroke="#555a66" stroke-width="0.7"/>
<polygon points="274.5,1357.5 283.1,1362.5 283.1,1372.5 274.5,1377.5 265.8,1372.5 265.8,1362.5" fill="none" stroke="#555a66" stroke-width="0.6"/>
<polygon points="274.5,1357.5 283.1,1372.5 265.8,1372.5" fill="none" stroke="#555a66" stroke-width="0.5"/>
<polygon points="274.5,1377.5 265.8,1362.5 283.1,1362.5" fill="none" stroke="#555a66" stroke-width="0.5"/>
<text x="273.6" y="1387.6" font-size="7.6" fill="#6a6e78" text-anchor="middle" textLength="41.9" lengthAdjust="spacingAndGlyphs">RangeSense</text>
<polygon points="304.4,1357.7 386.8,1357.7 386.8,1384.3 304.4,1384.3" fill="#2c4eb5"/>
<text x="308" y="1369.8" font-size="7" fill="#e8ecf8" text-anchor="start" textLength="60.9" lengthAdjust="spacingAndGlyphs">UWB 网关 UG-230</text>
<text x="308" y="1380.4" font-size="7" fill="#e8ecf8" text-anchor="start" textLength="77.7" lengthAdjust="spacingAndGlyphs">UWB Gateway UG-230</text>
<polyline points="249.9,1391.3 388.5,1391.3" fill="none" stroke="#2b50b4" stroke-width="0.8"/>
<text x="251.3" y="1405.2" font-size="6" fill="#3c3f48" text-anchor="start" textLength="72.7" lengthAdjust="spacingAndGlyphs">供电 Power: DC 12~48V</text>
<text x="251.3" y="1415.3" font-size="6" fill="#3c3f48" text-anchor="start" textLength="90.8" lengthAdjust="spacingAndGlyphs">UWB 地址 UWB MAC: 0338A8</text>
<text x="251.3" y="1425.4" font-size="6" fill="#3c3f48" text-anchor="start" textLength="69.9" lengthAdjust="spacingAndGlyphs">CMIIT ID: 2020DP4192</text>
<rect x="356.9" y="1405.9" width="1.6" height="1.6" fill="#26282e"/>
<rect x="356.9" y="1407.4" width="1.6" height="1.6" fill="#26282e"/>
<rect x="356.9" y="1410.4" width="1.6" height="1.6" fill="#26282e"/>
<rect x="356.9" y="1413.4" width="1.6" height="1.6" fill="#26282e"/>
<rect x="356.9" y="1414.8" width="1.6" height="1.6" fill="#26282e"/>
<rect x="358.4" y="1407.4" width="1.6" height="1.6" fill="#26282e"/>
<rect x="358.4" y="1408.9" width="1.6" height="1.6" fill="#26282e"/>
<rect x="358.4" y="1410.4" width="1.6" height="1.6" fill="#26282e"/>
<rect x="358.4" y="1411.9" width="1.6" height="1.6" fill="#26282e"/>
<rect x="358.4" y="1413.4" width="1.6" height="1.6" fill="#26282e"/>
<rect x="359.9" y="1405.9" width="1.6" height="1.6" fill="#26282e"/>
<rect x="359.9" y="1407.4" width="1.6" height="1.6" fill="#26282e"/>
<rect x="359.9" y="1413.4" width="1.6" height="1.6" fill="#26282e"/>
<rect x="361.4" y="1405.9" width="1.6" height="1.6" fill="#26282e"/>
<rect x="361.4" y="1408.9" width="1.6" height="1.6" fill="#26282e"/>
<rect x="361.4" y="1410.4" width="1.6" height="1.6" fill="#26282e"/>
<rect x="361.4" y="1411.9" width="1.6" height="1.6" fill="#26282e"/>
<rect x="361.4" y="1413.4" width="1.6" height="1.6" fill="#26282e"/>
<rect x="362.8" y="1405.9" width="1.6" height="1.6" fill="#26282e"/>
<rect x="362.8" y="1410.4" width="1.6" height="1.6" fill="#26282e"/>
<rect x="362.8" y="1413.4" width="1.6" height="1.6" fill="#26282e"/>
<rect x="362.8" y="1414.8" width="1.6" height="1.6" fill="#26282e"/>
<rect x="364.3" y="1405.9" width="1.6" height="1.6" fill="#26282e"/>
<rect x="364.3" y="1408.9" width="1.6" height="1.6" fill="#26282e"/>
<rect x="364.3" y="1410.4" width="1.6" height="1.6" fill="#26282e"/>
<rect x="364.3" y="1413.4" width="1.6" height="1.6" fill="#26282e"/>
<rect x="364.3" y="1414.8" width="1.6" height="1.6" fill="#26282e"/>
<rect x="365.8" y="1408.9" width="1.6" height="1.6" fill="#26282e"/>
<rect x="367.3" y="1395.5" width="1.6" height="1.6" fill="#26282e"/>
<rect x="367.3" y="1398.4" width="1.6" height="1.6" fill="#26282e"/>
<rect x="367.3" y="1399.9" width="1.6" height="1.6" fill="#26282e"/>
<rect x="367.3" y="1402.9" width="1.6" height="1.6" fill="#26282e"/>
<rect x="367.3" y="1404.4" width="1.6" height="1.6" fill="#26282e"/>
<rect x="367.3" y="1405.9" width="1.6" height="1.6" fill="#26282e"/>
<rect x="367.3" y="1413.4" width="1.6" height="1.6" fill="#26282e"/>
<rect x="367.3" y="1419.3" width="1.6" height="1.6" fill="#26282e"/>
<rect x="367.3" y="1423.8" width="1.6" height="1.6" fill="#26282e"/>
<rect x="368.8" y="1395.5" width="1.6" height="1.6" fill="#26282e"/>
<rect x="368.8" y="1402.9" width="1.6" height="1.6" fill="#26282e"/>
<rect x="368.8" y="1404.4" width="1.6" height="1.6" fill="#26282e"/>
<rect x="368.8" y="1407.4" width="1.6" height="1.6" fill="#26282e"/>
<rect x="368.8" y="1408.9" width="1.6" height="1.6" fill="#26282e"/>
<rect x="368.8" y="1410.4" width="1.6" height="1.6" fill="#26282e"/>
<rect x="368.8" y="1411.9" width="1.6" height="1.6" fill="#26282e"/>
<rect x="368.8" y="1413.4" width="1.6" height="1.6" fill="#26282e"/>
<rect x="368.8" y="1416.3" width="1.6" height="1.6" fill="#26282e"/>
<rect x="368.8" y="1417.8" width="1.6" height="1.6" fill="#26282e"/>
<rect x="368.8" y="1419.3" width="1.6" height="1.6" fill="#26282e"/>
<rect x="368.8" y="1422.3" width="1.6" height="1.6" fill="#26282e"/>
<rect x="368.8" y="1423.8" width="1.6" height="1.6" fill="#26282e"/>
<rect x="370.3" y="1399.9" width="1.6" height="1.6" fill="#26282e"/>
<rect x="370.3" y="1401.4" width="1.6" height="1.6" fill="#26282e"/>
<rect x="370.3" y="1402.9" width="1.6" height="1.6" fill="#26282e"/>
<rect x="370.3" y="1407.4" width="1.6" height="1.6" fill="#26282e"/>
<rect x="370.3" y="1408.9" width="1.6" height="1.6" fill="#26282e"/>
<rect x="370.3" y="1410.4" width="1.6" height="1.6" fill="#26282e"/>
<rect x="370.3" y="1411.9" width="1.6" height="1.6" fill="#26282e"/>
<rect x="370.3" y="1413.4" width="1.6" height="1.6" fill="#26282e"/>
<rect x="370.3" y="1416.3" width="1.6" height="1.6" fill="#26282e"/>
<rect x="370.3" y="1417.8" width="1.6" height="1.6" fill="#26282e"/>
<rect x="370.3" y="1419.3" width="1.6" height="1.6" fill="#26282e"/>
<rect x="370.3" y="1420.8" width="1.6" height="1.6" fill="#26282e"/>
<rect x="371.8" y="1399.9" width="1.6" height="1.6" fill="#26282e"/>
<rect x="371.8" y="1407.4" width="1.6" height="1.6" fill="#26282e"/>
<rect x="371.8" y="1408.9" width="1.6" height="1.6" fill="#26282e"/>
<rect x="371.8" y="1410.4" width="1.6" height="1.6" fill="#26282e"/>
<rect x="371.8" y="1413.4" width="1.6" height="1.6" fill="#26282e"/>
<rect x="371.8" y="1414.8" width="1.6" height="1.6" fill="#26282e"/>
<rect x="371.8" y="1416.3" width="1.6" height="1.6" fill="#26282e"/>
<rect x="371.8" y="1417.8" width="1.6" height="1.6" fill="#26282e"/>
<rect x="371.8" y="1419.3" width="1.6" height="1.6" fill="#26282e"/>
<rect x="371.8" y="1420.8" width="1.6" height="1.6" fill="#26282e"/>
<rect x="371.8" y="1422.3" width="1.6" height="1.6" fill="#26282e"/>
<rect x="371.8" y="1423.8" width="1.6" height="1.6" fill="#26282e"/>
<rect x="371.8" y="1425.3" width="1.6" height="1.6" fill="#26282e"/>
<rect x="373.3" y="1395.5" width="1.6" height="1.6" fill="#26282e"/>
<rect x="373.3" y="1397" width="1.6" height="1.6" fill="#26282e"/>
<rect x="373.3" y="1401.4" width="1.6" height="1.6" fill="#26282e"/>
<rect x="373.3" y="1402.9" width="1.6" height="1.6" fill="#26282e"/>
<rect x="373.3" y="1404.4" width="1.6" height="1.6" fill="#26282e"/>
<rect x="373.3" y="1405.9" width="1.6" height="1.6" fill="#26282e"/>
<rect x="373.3" y="1407.4" width="1.6" height="1.6" fill="#26282e"/>
<rect x="373.3" y="1411.9" width="1.6" height="1.6" fill="#26282e"/>
<rect x="373.3" y="1413.4" width="1.6" height="1.6" fill="#26282e"/>
<rect x="373.3" y="1414.8" width="1.6" height="1.6" fill="#26282e"/>
<rect x="373.3" y="1416.3" width="1.6" height="1.6" fill="#26282e"/>
<rect x="373.3" y="1417.8" width="1.6" height="1.6" fill="#26282e"/>
<rect x="373.3" y="1419.3" width="1.6" height="1.6" fill="#26282e"/>
<rect x="373.3" y="1422.3" width="1.6" height="1.6" fill="#26282e"/>
<rect x="373.3" y="1423.8" width="1.6" height="1.6" fill="#26282e"/>
<rect x="374.8" y="1397" width="1.6" height="1.6" fill="#26282e"/>
<rect x="374.8" y="1399.9" width="1.6" height="1.6" fill="#26282e"/>
<rect x="374.8" y="1407.4" width="1.6" height="1.6" fill="#26282e"/>
<rect x="374.8" y="1408.9" width="1.6" height="1.6" fill="#26282e"/>
<rect x="374.8" y="1410.4" width="1.6" height="1.6" fill="#26282e"/>
<rect x="374.8" y="1416.3" width="1.6" height="1.6" fill="#26282e"/>
<rect x="374.8" y="1417.8" width="1.6" height="1.6" fill="#26282e"/>
<rect x="376.3" y="1397" width="1.6" height="1.6" fill="#26282e"/>
<rect x="376.3" y="1399.9" width="1.6" height="1.6" fill="#26282e"/>
<rect x="376.3" y="1401.4" width="1.6" height="1.6" fill="#26282e"/>
<rect x="376.3" y="1402.9" width="1.6" height="1.6" fill="#26282e"/>
<rect x="376.3" y="1404.4" width="1.6" height="1.6" fill="#26282e"/>
<rect x="376.3" y="1405.9" width="1.6" height="1.6" fill="#26282e"/>
<rect x="376.3" y="1410.4" width="1.6" height="1.6" fill="#26282e"/>
<rect x="376.3" y="1416.3" width="1.6" height="1.6" fill="#26282e"/>
<rect x="376.3" y="1417.8" width="1.6" height="1.6" fill="#26282e"/>
<rect x="376.3" y="1419.3" width="1.6" height="1.6" fill="#26282e"/>
<rect x="376.3" y="1420.8" width="1.6" height="1.6" fill="#26282e"/>
<rect x="376.3" y="1422.3" width="1.6" height="1.6" fill="#26282e"/>
<rect x="377.7" y="1407.4" width="1.6" height="1.6" fill="#26282e"/>
<rect x="377.7" y="1411.9" width="1.6" height="1.6" fill="#26282e"/>
<rect x="377.7" y="1419.3" width="1.6" height="1.6" fill="#26282e"/>
<rect x="377.7" y="1420.8" width="1.6" height="1.6" fill="#26282e"/>
<rect x="377.7" y="1423.8" width="1.6" height="1.6" fill="#26282e"/>
<rect x="379.2" y="1407.4" width="1.6" height="1.6" fill="#26282e"/>
<rect x="379.2" y="1408.9" width="1.6" height="1.6" fill="#26282e"/>
<rect x="379.2" y="1413.4" width="1.6" height="1.6" fill="#26282e"/>
<rect x="379.2" y="1414.8" width="1.6" height="1.6" fill="#26282e"/>
<rect x="379.2" y="1416.3" width="1.6" height="1.6" fill="#26282e"/>
<rect x="379.2" y="1420.8" width="1.6" height="1.6" fill="#26282e"/>
<rect x="380.7" y="1405.9" width="1.6" height="1.6" fill="#26282e"/>
<rect x="380.7" y="1408.9" width="1.6" height="1.6" fill="#26282e"/>
<rect x="380.7" y="1410.4" width="1.6" height="1.6" fill="#26282e"/>
<rect x="380.7" y="1417.8" width="1.6" height="1.6" fill="#26282e"/>
<rect x="380.7" y="1422.3" width="1.6" height="1.6" fill="#26282e"/>
<rect x="380.7" y="1423.8" width="1.6" height="1.6" fill="#26282e"/>
<rect x="380.7" y="1425.3" width="1.6" height="1.6" fill="#26282e"/>
<rect x="382.2" y="1405.9" width="1.6" height="1.6" fill="#26282e"/>
<rect x="382.2" y="1408.9" width="1.6" height="1.6" fill="#26282e"/>
<rect x="382.2" y="1410.4" width="1.6" height="1.6" fill="#26282e"/>
<rect x="382.2" y="1411.9" width="1.6" height="1.6" fill="#26282e"/>
<rect x="382.2" y="1414.8" width="1.6" height="1.6" fill="#26282e"/>
<rect x="382.2" y="1416.3" width="1.6" height="1.6" fill="#26282e"/>
<rect x="382.2" y="1420.8" width="1.6" height="1.6" fill="#26282e"/>
<rect x="383.7" y="1407.4" width="1.6" height="1.6" fill="#26282e"/>
<rect x="383.7" y="1408.9" width="1.6" height="1.6" fill="#26282e"/>
<rect x="383.7" y="1410.4" width="1.6" height="1.6" fill="#26282e"/>
<rect x="383.7" y="1411.9" width="1.6" height="1.6" fill="#26282e"/>
<rect x="383.7" y="1414.8" width="1.6" height="1.6" fill="#26282e"/>
<rect x="383.7" y="1416.3" width="1.6" height="1.6" fill="#26282e"/>
<rect x="383.7" y="1420.8" width="1.6" height="1.6" fill="#26282e"/>
<rect x="385.2" y="1405.9" width="1.6" height="1.6" fill="#26282e"/>
<rect x="385.2" y="1408.9" width="1.6" height="1.6" fill="#26282e"/>
<rect x="385.2" y="1410.4" width="1.6" height="1.6" fill="#26282e"/>
<rect x="385.2" y="1419.3" width="1.6" height="1.6" fill="#26282e"/>
<rect x="386.7" y="1405.9" width="1.6" height="1.6" fill="#26282e"/>
<rect x="386.7" y="1408.9" width="1.6" height="1.6" fill="#26282e"/>
<rect x="386.7" y="1416.3" width="1.6" height="1.6" fill="#26282e"/>
<rect x="386.7" y="1422.3" width="1.6" height="1.6" fill="#26282e"/>
<rect x="386.7" y="1423.8" width="1.6" height="1.6" fill="#26282e"/>
<rect x="386.7" y="1425.3" width="1.6" height="1.6" fill="#26282e"/>
<rect x="357.6" y="1396.2" width="8.9" height="8.9" fill="none" stroke="#26282e" stroke-width="1.5"/>
<rect x="359.9" y="1398.4" width="4.5" height="4.5" fill="#26282e"/>
<rect x="378.5" y="1396.2" width="8.9" height="8.9" fill="none" stroke="#26282e" stroke-width="1.5"/>
<rect x="380.7" y="1398.4" width="4.5" height="4.5" fill="#26282e"/>
<rect x="357.6" y="1417.1" width="8.9" height="8.9" fill="none" stroke="#26282e" stroke-width="1.5"/>
<rect x="359.9" y="1419.3" width="4.5" height="4.5" fill="#26282e"/>
<rect x="251.3" y="1435.1" width="0.6" height="14.8" fill="#202227"/>
<rect x="252.9" y="1435.1" width="0.6" height="14.8" fill="#202227"/>
<rect x="254.2" y="1435.1" width="0.6" height="14.8" fill="#202227"/>
<rect x="255.3" y="1435.1" width="1" height="14.8" fill="#202227"/>
<rect x="256.8" y="1435.1" width="0.6" height="14.8" fill="#202227"/>
<rect x="258.4" y="1435.1" width="1" height="14.8" fill="#202227"/>
<rect x="259.9" y="1435.1" width="1" height="14.8" fill="#202227"/>
<rect x="261.4" y="1435.1" width="1.4" height="14.8" fill="#202227"/>
<rect x="263.3" y="1435.1" width="0.6" height="14.8" fill="#202227"/>
<rect x="264.6" y="1435.1" width="1.4" height="14.8" fill="#202227"/>
<rect x="266.5" y="1435.1" width="0.6" height="14.8" fill="#202227"/>
<rect x="267.6" y="1435.1" width="1.4" height="14.8" fill="#202227"/>
<rect x="270" y="1435.1" width="1.4" height="14.8" fill="#202227"/>
<rect x="272.1" y="1435.1" width="1.4" height="14.8" fill="#202227"/>
<rect x="274" y="1435.1" width="1" height="14.8" fill="#202227"/>
<rect x="275.7" y="1435.1" width="0.6" height="14.8" fill="#202227"/>
<rect x="277.3" y="1435.1" width="1" height="14.8" fill="#202227"/>
<rect x="278.8" y="1435.1" width="1" height="14.8" fill="#202227"/>
<rect x="280.8" y="1435.1" width="1.4" height="14.8" fill="#202227"/>
<rect x="282.9" y="1435.1" width="0.6" height="14.8" fill="#202227"/>
<rect x="284.2" y="1435.1" width="1" height="14.8" fill="#202227"/>
<rect x="286.2" y="1435.1" width="1" height="14.8" fill="#202227"/>
<rect x="288.2" y="1435.1" width="0.6" height="14.8" fill="#202227"/>
<rect x="289.3" y="1435.1" width="0.6" height="14.8" fill="#202227"/>
<rect x="290.4" y="1435.1" width="0.6" height="14.8" fill="#202227"/>
<rect x="291.7" y="1435.1" width="1" height="14.8" fill="#202227"/>
<rect x="293.2" y="1435.1" width="0.6" height="14.8" fill="#202227"/>
<rect x="294.5" y="1435.1" width="0.6" height="14.8" fill="#202227"/>
<rect x="295.8" y="1435.1" width="1" height="14.8" fill="#202227"/>
<rect x="297.5" y="1435.1" width="0.6" height="14.8" fill="#202227"/>
<rect x="299.1" y="1435.1" width="1.4" height="14.8" fill="#202227"/>
<rect x="301.5" y="1435.1" width="1" height="14.8" fill="#202227"/>
<rect x="303" y="1435.1" width="1" height="14.8" fill="#202227"/>
<rect x="304.5" y="1435.1" width="0.6" height="14.8" fill="#202227"/>
<rect x="305.8" y="1435.1" width="0.6" height="14.8" fill="#202227"/>
<rect x="307.1" y="1435.1" width="0.6" height="14.8" fill="#202227"/>
<rect x="308.7" y="1435.1" width="0.6" height="14.8" fill="#202227"/>
<rect x="310" y="1435.1" width="0.6" height="14.8" fill="#202227"/>
<rect x="311.6" y="1435.1" width="0.6" height="14.8" fill="#202227"/>
<rect x="312.7" y="1435.1" width="1" height="14.8" fill="#202227"/>
<rect x="314.2" y="1435.1" width="1.4" height="14.8" fill="#202227"/>
<rect x="316.1" y="1435.1" width="1" height="14.8" fill="#202227"/>
<rect x="318.1" y="1435.1" width="1.4" height="14.8" fill="#202227"/>
<rect x="320.2" y="1435.1" width="0.6" height="14.8" fill="#202227"/>
<rect x="321.3" y="1435.1" width="0.6" height="14.8" fill="#202227"/>
<rect x="322.4" y="1435.1" width="0.6" height="14.8" fill="#202227"/>
<rect x="323.7" y="1435.1" width="0.6" height="14.8" fill="#202227"/>
<rect x="324.8" y="1435.1" width="0.6" height="14.8" fill="#202227"/>
<rect x="326.1" y="1435.1" width="1" height="14.8" fill="#202227"/>
<rect x="328.1" y="1435.1" width="0.6" height="14.8" fill="#202227"/>
<rect x="329.4" y="1435.1" width="1.4" height="14.8" fill="#202227"/>
<rect x="331.8" y="1435.1" width="0.6" height="14.8" fill="#202227"/>
<rect x="333.1" y="1435.1" width="1" height="14.8" fill="#202227"/>
<rect x="334.6" y="1435.1" width="1" height="14.8" fill="#202227"/>
<rect x="336.1" y="1435.1" width="0.6" height="14.8" fill="#202227"/>
<rect x="337.2" y="1435.1" width="0.6" height="14.8" fill="#202227"/>
<rect x="338.8" y="1435.1" width="1.4" height="14.8" fill="#202227"/>
<rect x="340.7" y="1435.1" width="1.4" height="14.8" fill="#202227"/>
<rect x="342.6" y="1435.1" width="1.4" height="14.8" fill="#202227"/>
<rect x="345" y="1435.1" width="1.4" height="14.8" fill="#202227"/>
<rect x="347.4" y="1435.1" width="1.4" height="14.8" fill="#202227"/>
<rect x="349.8" y="1435.1" width="1" height="14.8" fill="#202227"/>
<rect x="351.8" y="1435.1" width="0.6" height="14.8" fill="#202227"/>
<rect x="352.9" y="1435.1" width="1" height="14.8" fill="#202227"/>
<rect x="354.4" y="1435.1" width="0.6" height="14.8" fill="#202227"/>
<rect x="355.7" y="1435.1" width="1" height="14.8" fill="#202227"/>
<rect x="357.2" y="1435.1" width="0.6" height="14.8" fill="#202227"/>
<rect x="358.3" y="1435.1" width="0.6" height="14.8" fill="#202227"/>
<rect x="359.9" y="1435.1" width="1" height="14.8" fill="#202227"/>
<rect x="361.6" y="1435.1" width="0.6" height="14.8" fill="#202227"/>
<rect x="362.7" y="1435.1" width="0.6" height="14.8" fill="#202227"/>
<text x="251.3" y="1462" font-size="8" fill="#4a4d57" text-anchor="start" textLength="88" lengthAdjust="spacingAndGlyphs">SN: UG230P20W490217</text>
<polygon points="249.9,1466.7 389,1466.7 389,1479.3 249.9,1479.3" fill="#2c4eb5"/>
<text x="253.2" y="1476.5" font-size="6.2" fill="#e8ecf8" text-anchor="start" textLength="132.7" lengthAdjust="spacingAndGlyphs">警告 Warning: 请勿拆解 Do Not Disassemble</text>
<text x="249.9" y="1490.8" font-size="5.6" fill="#3c3f48" text-anchor="start" textLength="78.2" lengthAdjust="spacingAndGlyphs">南京沃旭通讯科技有限公司</text>
<text x="249.9" y="1499.1" font-size="6.4" fill="#3c3f48" text-anchor="start" textLength="72.7" lengthAdjust="spacingAndGlyphs">Woxu Wireless Co.,Ltd.</text>
<text x="389" y="1490.8" font-size="5.6" fill="#3c3f48" text-anchor="end" textLength="26.5" lengthAdjust="spacingAndGlyphs">中国制造</text>
<text x="389" y="1499.1" font-size="6.4" fill="#3c3f48" text-anchor="end" textLength="45.3" lengthAdjust="spacingAndGlyphs">Made in China</text>
<rect x="1800.2" y="268.5" width="3.4" height="103" fill="#0b62ad"/>
<text x="1814.2" y="310.5" font-size="46" font-weight="900" fill="#0b62ad">腕带</text>
<text x="1814.2" y="366" font-size="46" font-weight="300" fill="#0b62ad">标签</text>
<rect x="75.2" y="1326" width="3.4" height="103" fill="#0b62ad"/>
<text x="89.2" y="1368" font-size="46" font-weight="900" fill="#0b62ad">车载</text>
<text x="89.2" y="1423.5" font-size="46" font-weight="300" fill="#0b62ad">标签</text>
<polyline points="1747,328 1507.9,328 1507.9,699" fill="none" stroke="#0b62ad" stroke-width="5.6"/>
<polyline points="596.5,1389.2 1441.2,1389.2 1441.2,1176" fill="none" stroke="#0b62ad" stroke-width="5.6"/>
<circle cx="1509.1" cy="697.9" r="13" fill="#0b62ad"/>
<circle cx="1510.3" cy="707" r="28" fill="none" stroke="#123c7c" stroke-width="2" stroke-dasharray="6.4 4.6"/>
<circle cx="1441.2" cy="1176" r="12.5" fill="#0b62ad"/>
<circle cx="1439.1" cy="1176" r="28.3" fill="none" stroke="#123c7c" stroke-width="2" stroke-dasharray="6.4 4.6"/>
</svg></body></html>
